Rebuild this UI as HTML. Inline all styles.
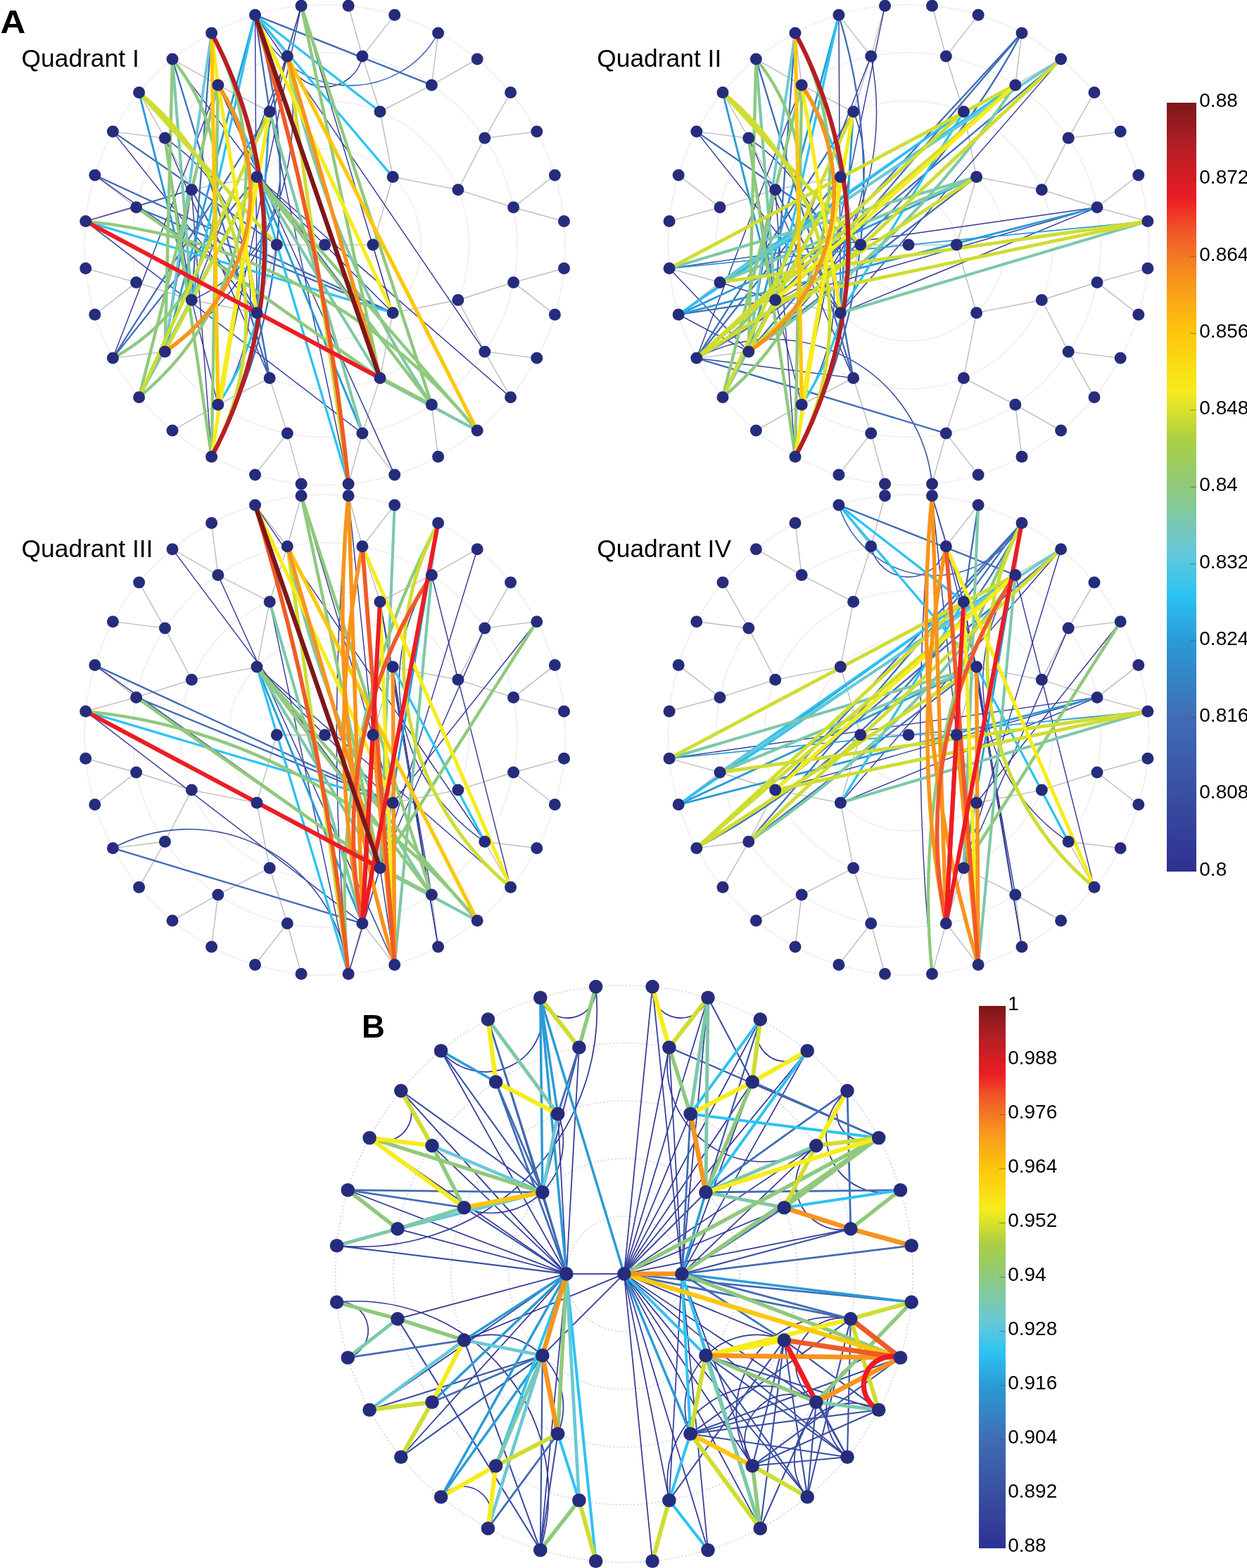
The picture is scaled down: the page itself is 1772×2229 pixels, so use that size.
<!DOCTYPE html>
<html lang="en">
<head>
<meta charset="utf-8">
<title>Figure: quadrant networks</title>
<style>
html,body{margin:0;padding:0;background:#fff}
body{width:1772px;height:2229px;overflow:hidden}
svg{display:block}
text{font-family:"Liberation Sans",Arial,Helvetica,sans-serif;fill:#000}
.rings circle{fill:none;stroke:#cfcfd6;stroke-width:1.2;stroke-dasharray:1.2 1.6}
.rb circle{stroke:#c3c3cf;stroke-width:1.5;stroke-dasharray:1.6 3.4}
.tree{fill:none;stroke:#bababd;stroke-width:1.35}
.edges path{fill:none;stroke-linecap:round}
.nodes circle{fill:#262c7c}
</style>
</head>
<body>

<svg width="1772" height="2229" viewBox="0 0 1772 2229">
<rect width="1772" height="2229" fill="#fff"/>
<g id="Q1">
<g class="rings">
<circle cx="461.6" cy="348.1" r="68.3"/>
<circle cx="461.6" cy="348.1" r="136.6"/>
<circle cx="461.6" cy="348.1" r="204.9"/>
<circle cx="461.6" cy="348.1" r="273.2"/>
<circle cx="461.6" cy="348.1" r="341.5"/>
</g>
<path class="tree" d="M461.6 348.1L529.9 348.1M461.6 348.1L393.3 348.1M529.9 348.1L558.2 251.5M529.9 348.1L558.2 444.7M393.3 348.1L365 444.7M393.3 348.1L365 251.5M558.2 251.5L540 158.8M558.2 251.5L650.9 269.7M558.2 444.7L650.9 426.5M558.2 444.7L540 537.4M365 444.7L383.2 537.4M365 444.7L272.3 426.5M365 251.5L272.3 269.7M365 251.5L383.2 158.8M540 158.8L514.9 80.1M540 158.8L613.4 120.9M650.9 269.7L688.8 196.3M650.9 269.7L729.6 294.8M650.9 426.5L729.6 401.4M650.9 426.5L688.8 499.9M540 537.4L613.4 575.3M540 537.4L514.9 616.1M383.2 537.4L408.3 616.1M383.2 537.4L309.8 575.3M272.3 426.5L234.4 499.9M272.3 426.5L193.6 401.4M272.3 269.7L193.6 294.8M272.3 269.7L234.4 196.3M383.2 158.8L309.8 120.9M383.2 158.8L408.3 80.1M514.9 80.1L495.1 8.2M514.9 80.1L560.7 21.3M613.4 120.9L622.6 46.9M613.4 120.9L678.2 84.1M688.8 196.3L725.6 131.5M688.8 196.3L762.8 187.1M729.6 294.8L788.4 249M729.6 294.8L801.5 314.6M729.6 401.4L801.5 381.6M729.6 401.4L788.4 447.2M688.8 499.9L762.8 509.1M688.8 499.9L725.6 564.7M613.4 575.3L678.2 612.1M613.4 575.3L622.6 649.3M514.9 616.1L560.7 674.9M514.9 616.1L495.1 688M408.3 616.1L428.1 688M408.3 616.1L362.5 674.9M309.8 575.3L300.6 649.3M309.8 575.3L245 612.1M234.4 499.9L197.6 564.7M234.4 499.9L160.4 509.1M193.6 401.4L134.8 447.2M193.6 401.4L121.7 381.6M193.6 294.8L121.7 314.6M193.6 294.8L134.8 249M234.4 196.3L160.4 187.1M234.4 196.3L197.6 131.5M309.8 120.9L245 84.1M309.8 120.9L300.6 46.9M408.3 80.1L362.5 21.3M408.3 80.1L428.1 8.2"/>
<g class="edges">
<path d="M362.5 21.3L688.8 499.9" stroke="#303795" stroke-width="1.4"/>
<path d="M428.1 8.2L558.2 444.7" stroke="#303795" stroke-width="1.4"/>
<path d="M383.2 158.8L495.1 688" stroke="#303795" stroke-width="1.4"/>
<path d="M365 251.5L558.2 444.7" stroke="#303795" stroke-width="1.4"/>
<path d="M365 251.5L725.6 564.7" stroke="#303795" stroke-width="1.4"/>
<path d="M245 84.1L613.4 575.3" stroke="#303795" stroke-width="1.4"/>
<path d="M134.8 249L540 537.4" stroke="#303795" stroke-width="1.4"/>
<path d="M121.7 314.6L514.9 616.1" stroke="#303795" stroke-width="1.4"/>
<path d="M309.8 120.9L560.7 674.9" stroke="#303795" stroke-width="1.4"/>
<path d="M300.6 649.3L272.3 269.7" stroke="#303795" stroke-width="1.4"/>
<path d="M160.4 509.1L309.8 120.9" stroke="#303795" stroke-width="1.4"/>
<path d="M383.2 537.4L234.4 196.3" stroke="#303795" stroke-width="1.4"/>
<path d="M197.6 131.5L309.8 575.3" stroke="#303795" stroke-width="1.4"/>
<path d="M160.4 187.1L365 444.7" stroke="#303795" stroke-width="1.4"/>
<path d="M362.5 21.3L365 444.7" stroke="#303795" stroke-width="1.4"/>
<path d="M383.2 158.8A205 205 0 0 1 272.3 426.5" stroke="#303795" stroke-width="1.4"/>
<path d="M234.4 196.3L272.3 426.5" stroke="#303795" stroke-width="1.4"/>
<path d="M234.4 196.3A273.3 273.3 0 0 1 309.8 575.3" stroke="#303795" stroke-width="1.4"/>
<path d="M408.3 80.1L272.3 426.5" stroke="#303795" stroke-width="1.4"/>
<path d="M408.3 80.1A409.1 409.1 0 0 1 234.4 499.9" stroke="#303795" stroke-width="1.4"/>
<path d="M272.3 269.7L234.4 499.9" stroke="#303795" stroke-width="1.4"/>
<path d="M428.1 8.2L309.8 575.3" stroke="#303795" stroke-width="1.4"/>
<path d="M428.1 8.2L383.2 158.8" stroke="#303795" stroke-width="1.4"/>
<path d="M408.3 80.1L365 251.5" stroke="#303795" stroke-width="1.4"/>
<path d="M121.7 314.6L272.3 269.7" stroke="#303795" stroke-width="1.4"/>
<path d="M408.3 80.1A54.4 54.4 0 0 0 514.9 80.1" stroke="#303795" stroke-width="1.4"/>
<path d="M134.8 249L558.2 444.7" stroke="#406cb4" stroke-width="2.3"/>
<path d="M193.6 294.8L558.2 444.7" stroke="#406cb4" stroke-width="2.3"/>
<path d="M245 84.1L383.2 537.4" stroke="#406cb4" stroke-width="2.3"/>
<path d="M160.4 509.1L365 251.5" stroke="#406cb4" stroke-width="2.3"/>
<path d="M160.4 509.1L383.2 158.8" stroke="#406cb4" stroke-width="2.3"/>
<path d="M383.2 537.4L309.8 120.9" stroke="#406cb4" stroke-width="2.3"/>
<path d="M272.3 269.7L365 444.7" stroke="#406cb4" stroke-width="2.3"/>
<path d="M300.6 46.9L272.3 426.5" stroke="#406cb4" stroke-width="2.3"/>
<path d="M362.5 21.3A824.9 824.9 0 0 1 300.6 649.3" stroke="#406cb4" stroke-width="2.3"/>
<path d="M160.4 187.1L393.3 348.1" stroke="#406cb4" stroke-width="2.3"/>
<path d="M362.5 21.3L383.2 158.8" stroke="#406cb4" stroke-width="2.3"/>
<path d="M362.5 21.3L613.4 120.9" stroke="#406cb4" stroke-width="2.4"/>
<path d="M622.6 46.9A141.5 141.5 0 0 1 362.5 21.3" stroke="#406cb4" stroke-width="1.6"/>
<path d="M365 251.5L514.9 616.1" stroke="#2a9bd6" stroke-width="2.9"/>
<path d="M197.6 131.5L272.3 426.5" stroke="#2a9bd6" stroke-width="2.9"/>
<path d="M362.5 21.3L234.4 499.9" stroke="#2a9bd6" stroke-width="2.9"/>
<path d="M383.2 158.8L365 444.7" stroke="#2a9bd6" stroke-width="2.9"/>
<path d="M365 251.5L495.1 688" stroke="#2cc3f3" stroke-width="3.3"/>
<path d="M121.7 314.6L558.2 444.7" stroke="#2cc3f3" stroke-width="3.3"/>
<path d="M309.8 120.9A409.1 409.1 0 0 1 309.8 575.3" stroke="#2cc3f3" stroke-width="3.3"/>
<path d="M362.5 21.3L272.3 426.5" stroke="#2cc3f3" stroke-width="3.3"/>
<path d="M365 251.5L309.8 575.3" stroke="#2cc3f3" stroke-width="3.3"/>
<path d="M362.5 21.3L558.2 251.5" stroke="#2cc3f3" stroke-width="3.3"/>
<path d="M362.5 21.3L540 158.8" stroke="#2cc3f3" stroke-width="3.3"/>
<path d="M300.6 46.9L234.4 499.9" stroke="#6ac8d6" stroke-width="3.8"/>
<path d="M408.3 80.1A1374.2 1374.2 0 0 0 613.4 575.3" stroke="#7dc8a9" stroke-width="4.1"/>
<path d="M383.2 158.8L514.9 616.1" stroke="#7dc8a9" stroke-width="4.1"/>
<path d="M365 251.5L540 537.4" stroke="#7dc8a9" stroke-width="4.1"/>
<path d="M121.7 314.6L678.2 612.1" stroke="#7dc8a9" stroke-width="4.1"/>
<path d="M245 84.1L272.3 426.5" stroke="#7dc8a9" stroke-width="4.1"/>
<path d="M197.6 564.7L365 251.5" stroke="#7dc8a9" stroke-width="4.1"/>
<path d="M428.1 8.2L540 537.4" stroke="#8fc97c" stroke-width="4.4"/>
<path d="M428.1 8.2L613.4 575.3" stroke="#8fc97c" stroke-width="4.4"/>
<path d="M365 251.5L678.2 612.1" stroke="#8fc97c" stroke-width="4.4"/>
<path d="M365 251.5L613.4 575.3" stroke="#8fc97c" stroke-width="4.4"/>
<path d="M193.6 294.8L540 537.4" stroke="#8fc97c" stroke-width="4.4"/>
<path d="M121.7 314.6L613.4 575.3" stroke="#8fc97c" stroke-width="4.4"/>
<path d="M121.7 314.6A824.9 824.9 0 0 1 678.2 612.1" stroke="#8fc97c" stroke-width="4.4"/>
<path d="M300.6 649.3L309.8 120.9" stroke="#8fc97c" stroke-width="4.4"/>
<path d="M300.6 649.3L234.4 196.3" stroke="#8fc97c" stroke-width="4.4"/>
<path d="M245 84.1L234.4 499.9" stroke="#8fc97c" stroke-width="4.4"/>
<path d="M245 84.1A280.4 280.4 0 0 1 160.4 509.1" stroke="#8fc97c" stroke-width="4.4"/>
<path d="M197.6 564.7L309.8 120.9" stroke="#8fc97c" stroke-width="4.4"/>
<path d="M197.6 564.7A416.3 416.3 0 0 0 300.6 46.9" stroke="#8fc97c" stroke-width="4.4"/>
<path d="M408.3 80.1L495.1 688" stroke="#cfdd31" stroke-width="4.9"/>
<path d="M300.6 649.3A416.3 416.3 0 0 0 197.6 131.5" stroke="#cfdd31" stroke-width="4.9"/>
<path d="M234.4 499.9L365 251.5" stroke="#cfdd31" stroke-width="4.9"/>
<path d="M197.6 564.7L383.2 158.8" stroke="#cfdd31" stroke-width="4.9"/>
<path d="M197.6 131.5L393.3 348.1" stroke="#cfdd31" stroke-width="4.9"/>
<path d="M362.5 21.3L558.2 444.7" stroke="#f7ec1c" stroke-width="5.1"/>
<path d="M309.8 120.9L365 444.7" stroke="#f7ec1c" stroke-width="5.1"/>
<path d="M309.8 575.3L383.2 158.8" stroke="#f7ec1c" stroke-width="5.1"/>
<path d="M300.6 649.3L365 251.5" stroke="#f7ec1c" stroke-width="5.1"/>
<path d="M300.6 46.9L309.8 120.9" stroke="#f7ec1c" stroke-width="5.1"/>
<path d="M408.3 80.1L678.2 612.1" stroke="#fdc70c" stroke-width="5.3"/>
<path d="M300.6 46.9L309.8 575.3" stroke="#fdc70c" stroke-width="5.3"/>
<path d="M408.3 80.1L540 537.4" stroke="#f7941d" stroke-width="5.5"/>
<path d="M309.8 120.9A273.3 273.3 0 0 1 234.4 499.9" stroke="#f7941d" stroke-width="5.5"/>
<path d="M362.5 21.3A3469 3469 0 0 1 495.1 688" stroke="#f05a28" stroke-width="5.8"/>
<path d="M121.7 314.6L540 537.4" stroke="#ed1c24" stroke-width="6"/>
<path d="M300.6 46.9A639.2 639.2 0 0 1 300.6 649.3" stroke="#b51f24" stroke-width="6.2"/>
<path d="M362.5 21.3L540 537.4" stroke="#7d171a" stroke-width="6.4"/>
</g>
<g class="nodes">
<circle cx="461.6" cy="348.1" r="8.5"/>
<circle cx="529.9" cy="348.1" r="8.5"/>
<circle cx="393.3" cy="348.1" r="8.5"/>
<circle cx="558.2" cy="251.5" r="8.5"/>
<circle cx="558.2" cy="444.7" r="8.5"/>
<circle cx="365" cy="444.7" r="8.5"/>
<circle cx="365" cy="251.5" r="8.5"/>
<circle cx="540" cy="158.8" r="8.5"/>
<circle cx="650.9" cy="269.7" r="8.5"/>
<circle cx="650.9" cy="426.5" r="8.5"/>
<circle cx="540" cy="537.4" r="8.5"/>
<circle cx="383.2" cy="537.4" r="8.5"/>
<circle cx="272.3" cy="426.5" r="8.5"/>
<circle cx="272.3" cy="269.7" r="8.5"/>
<circle cx="383.2" cy="158.8" r="8.5"/>
<circle cx="514.9" cy="80.1" r="8.5"/>
<circle cx="613.4" cy="120.9" r="8.5"/>
<circle cx="688.8" cy="196.3" r="8.5"/>
<circle cx="729.6" cy="294.8" r="8.5"/>
<circle cx="729.6" cy="401.4" r="8.5"/>
<circle cx="688.8" cy="499.9" r="8.5"/>
<circle cx="613.4" cy="575.3" r="8.5"/>
<circle cx="514.9" cy="616.1" r="8.5"/>
<circle cx="408.3" cy="616.1" r="8.5"/>
<circle cx="309.8" cy="575.3" r="8.5"/>
<circle cx="234.4" cy="499.9" r="8.5"/>
<circle cx="193.6" cy="401.4" r="8.5"/>
<circle cx="193.6" cy="294.8" r="8.5"/>
<circle cx="234.4" cy="196.3" r="8.5"/>
<circle cx="309.8" cy="120.9" r="8.5"/>
<circle cx="408.3" cy="80.1" r="8.5"/>
<circle cx="495.1" cy="8.2" r="8.5"/>
<circle cx="560.7" cy="21.3" r="8.5"/>
<circle cx="622.6" cy="46.9" r="8.5"/>
<circle cx="678.2" cy="84.1" r="8.5"/>
<circle cx="725.6" cy="131.5" r="8.5"/>
<circle cx="762.8" cy="187.1" r="8.5"/>
<circle cx="788.4" cy="249" r="8.5"/>
<circle cx="801.5" cy="314.6" r="8.5"/>
<circle cx="801.5" cy="381.6" r="8.5"/>
<circle cx="788.4" cy="447.2" r="8.5"/>
<circle cx="762.8" cy="509.1" r="8.5"/>
<circle cx="725.6" cy="564.7" r="8.5"/>
<circle cx="678.2" cy="612.1" r="8.5"/>
<circle cx="622.6" cy="649.3" r="8.5"/>
<circle cx="560.7" cy="674.9" r="8.5"/>
<circle cx="495.1" cy="688" r="8.5"/>
<circle cx="428.1" cy="688" r="8.5"/>
<circle cx="362.5" cy="674.9" r="8.5"/>
<circle cx="300.6" cy="649.3" r="8.5"/>
<circle cx="245" cy="612.1" r="8.5"/>
<circle cx="197.6" cy="564.7" r="8.5"/>
<circle cx="160.4" cy="509.1" r="8.5"/>
<circle cx="134.8" cy="447.2" r="8.5"/>
<circle cx="121.7" cy="381.6" r="8.5"/>
<circle cx="121.7" cy="314.6" r="8.5"/>
<circle cx="134.8" cy="249" r="8.5"/>
<circle cx="160.4" cy="187.1" r="8.5"/>
<circle cx="197.6" cy="131.5" r="8.5"/>
<circle cx="245" cy="84.1" r="8.5"/>
<circle cx="300.6" cy="46.9" r="8.5"/>
<circle cx="362.5" cy="21.3" r="8.5"/>
<circle cx="428.1" cy="8.2" r="8.5"/>
</g>
</g>
<g id="Q2">
<g class="rings">
<circle cx="1291" cy="348.1" r="68.3"/>
<circle cx="1291" cy="348.1" r="136.6"/>
<circle cx="1291" cy="348.1" r="204.9"/>
<circle cx="1291" cy="348.1" r="273.2"/>
<circle cx="1291" cy="348.1" r="341.5"/>
</g>
<path class="tree" d="M1291 348.1L1359.3 348.1M1291 348.1L1222.7 348.1M1359.3 348.1L1387.6 251.5M1359.3 348.1L1387.6 444.7M1222.7 348.1L1194.4 444.7M1222.7 348.1L1194.4 251.5M1387.6 251.5L1369.4 158.8M1387.6 251.5L1480.3 269.7M1387.6 444.7L1480.3 426.5M1387.6 444.7L1369.4 537.4M1194.4 444.7L1212.6 537.4M1194.4 444.7L1101.7 426.5M1194.4 251.5L1101.7 269.7M1194.4 251.5L1212.6 158.8M1369.4 158.8L1344.3 80.1M1369.4 158.8L1442.8 120.9M1480.3 269.7L1518.2 196.3M1480.3 269.7L1559 294.8M1480.3 426.5L1559 401.4M1480.3 426.5L1518.2 499.9M1369.4 537.4L1442.8 575.3M1369.4 537.4L1344.3 616.1M1212.6 537.4L1237.7 616.1M1212.6 537.4L1139.2 575.3M1101.7 426.5L1063.8 499.9M1101.7 426.5L1023 401.4M1101.7 269.7L1023 294.8M1101.7 269.7L1063.8 196.3M1212.6 158.8L1139.2 120.9M1212.6 158.8L1237.7 80.1M1344.3 80.1L1324.5 8.2M1344.3 80.1L1390.1 21.3M1442.8 120.9L1452 46.9M1442.8 120.9L1507.6 84.1M1518.2 196.3L1555 131.5M1518.2 196.3L1592.2 187.1M1559 294.8L1617.8 249M1559 294.8L1630.9 314.6M1559 401.4L1630.9 381.6M1559 401.4L1617.8 447.2M1518.2 499.9L1592.2 509.1M1518.2 499.9L1555 564.7M1442.8 575.3L1507.6 612.1M1442.8 575.3L1452 649.3M1344.3 616.1L1390.1 674.9M1344.3 616.1L1324.5 688M1237.7 616.1L1257.5 688M1237.7 616.1L1191.9 674.9M1139.2 575.3L1130 649.3M1139.2 575.3L1074.4 612.1M1063.8 499.9L1027 564.7M1063.8 499.9L989.8 509.1M1023 401.4L964.2 447.2M1023 401.4L951.1 381.6M1023 294.8L951.1 314.6M1023 294.8L964.2 249M1063.8 196.3L989.8 187.1M1063.8 196.3L1027 131.5M1139.2 120.9L1074.4 84.1M1139.2 120.9L1130 46.9M1237.7 80.1L1191.9 21.3M1237.7 80.1L1257.5 8.2"/>
<g class="edges">
<path d="M1130 649.3L1101.7 269.7" stroke="#303795" stroke-width="1.4"/>
<path d="M989.8 509.1L1139.2 120.9" stroke="#303795" stroke-width="1.4"/>
<path d="M1212.6 537.4L1063.8 196.3" stroke="#303795" stroke-width="1.4"/>
<path d="M1027 131.5L1139.2 575.3" stroke="#303795" stroke-width="1.4"/>
<path d="M989.8 187.1L1194.4 444.7" stroke="#303795" stroke-width="1.4"/>
<path d="M1191.9 21.3L1194.4 444.7" stroke="#303795" stroke-width="1.4"/>
<path d="M1212.6 158.8A205 205 0 0 1 1101.7 426.5" stroke="#303795" stroke-width="1.4"/>
<path d="M1063.8 196.3L1101.7 426.5" stroke="#303795" stroke-width="1.4"/>
<path d="M1063.8 196.3A273.3 273.3 0 0 1 1139.2 575.3" stroke="#303795" stroke-width="1.4"/>
<path d="M1237.7 80.1L1101.7 426.5" stroke="#303795" stroke-width="1.4"/>
<path d="M1237.7 80.1A409.1 409.1 0 0 1 1063.8 499.9" stroke="#303795" stroke-width="1.4"/>
<path d="M1101.7 269.7L1063.8 499.9" stroke="#303795" stroke-width="1.4"/>
<path d="M1257.5 8.2L1139.2 575.3" stroke="#303795" stroke-width="1.4"/>
<path d="M964.2 447.2L1063.8 499.9" stroke="#303795" stroke-width="1.4"/>
<path d="M951.1 381.6L1063.8 499.9" stroke="#303795" stroke-width="1.4"/>
<path d="M989.8 509.1L1212.6 537.4" stroke="#303795" stroke-width="1.4"/>
<path d="M1023 401.4L1101.7 426.5" stroke="#303795" stroke-width="1.4"/>
<path d="M1194.4 444.7L1507.6 84.1" stroke="#303795" stroke-width="1.4"/>
<path d="M1194.4 444.7L1559 294.8" stroke="#303795" stroke-width="1.4"/>
<path d="M1559 294.8L951.1 381.6" stroke="#303795" stroke-width="1.4"/>
<path d="M1559 294.8L1101.7 426.5" stroke="#303795" stroke-width="1.4"/>
<path d="M989.8 509.1A228.3 228.3 0 0 1 1324.5 688" stroke="#394fa2" stroke-width="1.6"/>
<path d="M1074.4 84.1L1212.6 537.4" stroke="#406cb4" stroke-width="2.3"/>
<path d="M989.8 509.1L1194.4 251.5" stroke="#406cb4" stroke-width="2.3"/>
<path d="M989.8 509.1L1212.6 158.8" stroke="#406cb4" stroke-width="2.3"/>
<path d="M1212.6 537.4L1139.2 120.9" stroke="#406cb4" stroke-width="2.3"/>
<path d="M1101.7 269.7L1194.4 444.7" stroke="#406cb4" stroke-width="2.3"/>
<path d="M1130 46.9L1101.7 426.5" stroke="#406cb4" stroke-width="2.3"/>
<path d="M1191.9 21.3A824.9 824.9 0 0 1 1130 649.3" stroke="#406cb4" stroke-width="2.3"/>
<path d="M989.8 187.1L1222.7 348.1" stroke="#406cb4" stroke-width="2.3"/>
<path d="M964.2 447.2L1101.7 426.5" stroke="#406cb4" stroke-width="2.3"/>
<path d="M989.8 509.1L1344.3 616.1" stroke="#406cb4" stroke-width="2.3"/>
<path d="M1101.7 426.5L1452 46.9" stroke="#406cb4" stroke-width="2.3"/>
<path d="M1101.7 426.5L1507.6 84.1" stroke="#406cb4" stroke-width="2.3"/>
<path d="M989.8 509.1A1126.3 1126.3 0 0 0 1452 46.9" stroke="#406cb4" stroke-width="2.3"/>
<path d="M1063.8 499.9L1387.6 251.5" stroke="#406cb4" stroke-width="2.3"/>
<path d="M1063.8 499.9L1452 46.9" stroke="#406cb4" stroke-width="2.3"/>
<path d="M1027 131.5L1101.7 426.5" stroke="#2a9bd6" stroke-width="2.9"/>
<path d="M1191.9 21.3L1063.8 499.9" stroke="#2a9bd6" stroke-width="2.9"/>
<path d="M1212.6 158.8L1194.4 444.7" stroke="#2a9bd6" stroke-width="2.9"/>
<path d="M951.1 381.6L1630.9 314.6" stroke="#2a9bd6" stroke-width="1.8"/>
<path d="M964.2 447.2L1559 294.8" stroke="#2a9bd6" stroke-width="2.9"/>
<path d="M964.2 447.2L1369.4 158.8" stroke="#2a9bd6" stroke-width="2.9"/>
<path d="M964.2 447.2L1387.6 251.5" stroke="#2a9bd6" stroke-width="2.9"/>
<path d="M1139.2 120.9A409.1 409.1 0 0 1 1139.2 575.3" stroke="#2cc3f3" stroke-width="3.3"/>
<path d="M1191.9 21.3L1101.7 426.5" stroke="#2cc3f3" stroke-width="3.3"/>
<path d="M1194.4 251.5L1139.2 575.3" stroke="#2cc3f3" stroke-width="3.3"/>
<path d="M1023 401.4L1369.4 158.8" stroke="#2cc3f3" stroke-width="3.3"/>
<path d="M964.2 447.2L1442.8 120.9" stroke="#2cc3f3" stroke-width="3.3"/>
<path d="M1194.4 444.7L1369.4 158.8" stroke="#2cc3f3" stroke-width="3.3"/>
<path d="M1130 46.9L1063.8 499.9" stroke="#6ac8d6" stroke-width="3.8"/>
<path d="M1023 401.4L1507.6 84.1" stroke="#6ac8d6" stroke-width="3.8"/>
<path d="M1074.4 84.1L1101.7 426.5" stroke="#7dc8a9" stroke-width="4.1"/>
<path d="M1027 564.7L1194.4 251.5" stroke="#7dc8a9" stroke-width="4.1"/>
<path d="M951.1 381.6L1387.6 251.5" stroke="#7dc8a9" stroke-width="4.1"/>
<path d="M1023 401.4L1387.6 251.5" stroke="#7dc8a9" stroke-width="4.1"/>
<path d="M1194.4 444.7L1630.9 314.6" stroke="#7dc8a9" stroke-width="4.1"/>
<path d="M1063.8 499.9A1374.2 1374.2 0 0 0 1442.8 120.9" stroke="#7dc8a9" stroke-width="4.1"/>
<path d="M1130 649.3L1139.2 120.9" stroke="#8fc97c" stroke-width="4.4"/>
<path d="M1130 649.3L1063.8 196.3" stroke="#8fc97c" stroke-width="4.4"/>
<path d="M1074.4 84.1L1063.8 499.9" stroke="#8fc97c" stroke-width="4.4"/>
<path d="M1074.4 84.1A280.4 280.4 0 0 1 989.8 509.1" stroke="#8fc97c" stroke-width="4.4"/>
<path d="M1027 564.7L1139.2 120.9" stroke="#8fc97c" stroke-width="4.4"/>
<path d="M1027 564.7A416.3 416.3 0 0 0 1130 46.9" stroke="#8fc97c" stroke-width="4.4"/>
<path d="M1130 649.3A416.3 416.3 0 0 0 1027 131.5" stroke="#cfdd31" stroke-width="4.9"/>
<path d="M1063.8 499.9L1194.4 251.5" stroke="#cfdd31" stroke-width="4.9"/>
<path d="M1027 564.7L1212.6 158.8" stroke="#cfdd31" stroke-width="4.9"/>
<path d="M1027 131.5L1222.7 348.1" stroke="#cfdd31" stroke-width="4.9"/>
<path d="M951.1 381.6L1442.8 120.9" stroke="#cfdd31" stroke-width="4.9"/>
<path d="M1023 401.4L1630.9 314.6" stroke="#cfdd31" stroke-width="4.9"/>
<path d="M1101.7 426.5L1630.9 314.6" stroke="#cfdd31" stroke-width="4.9"/>
<path d="M989.8 509.1L1369.4 158.8" stroke="#cfdd31" stroke-width="4.9"/>
<path d="M989.8 509.1L1387.6 251.5" stroke="#cfdd31" stroke-width="4.9"/>
<path d="M989.8 509.1L1442.8 120.9" stroke="#cfdd31" stroke-width="4.9"/>
<path d="M1063.8 499.9L1507.6 84.1" stroke="#cfdd31" stroke-width="4.9"/>
<path d="M1139.2 120.9L1194.4 444.7" stroke="#f7ec1c" stroke-width="5.1"/>
<path d="M1139.2 575.3L1212.6 158.8" stroke="#f7ec1c" stroke-width="5.1"/>
<path d="M1130 649.3L1194.4 251.5" stroke="#f7ec1c" stroke-width="5.1"/>
<path d="M1101.7 426.5L1442.8 120.9" stroke="#f7ec1c" stroke-width="5.1"/>
<path d="M1130 46.9L1139.2 575.3" stroke="#fdc70c" stroke-width="5.3"/>
<path d="M1139.2 120.9A273.3 273.3 0 0 1 1063.8 499.9" stroke="#f7941d" stroke-width="5.5"/>
<path d="M1130 46.9A639.2 639.2 0 0 1 1130 649.3" stroke="#b51f24" stroke-width="6.2"/>
</g>
<g class="nodes">
<circle cx="1291" cy="348.1" r="8.5"/>
<circle cx="1359.3" cy="348.1" r="8.5"/>
<circle cx="1222.7" cy="348.1" r="8.5"/>
<circle cx="1387.6" cy="251.5" r="8.5"/>
<circle cx="1387.6" cy="444.7" r="8.5"/>
<circle cx="1194.4" cy="444.7" r="8.5"/>
<circle cx="1194.4" cy="251.5" r="8.5"/>
<circle cx="1369.4" cy="158.8" r="8.5"/>
<circle cx="1480.3" cy="269.7" r="8.5"/>
<circle cx="1480.3" cy="426.5" r="8.5"/>
<circle cx="1369.4" cy="537.4" r="8.5"/>
<circle cx="1212.6" cy="537.4" r="8.5"/>
<circle cx="1101.7" cy="426.5" r="8.5"/>
<circle cx="1101.7" cy="269.7" r="8.5"/>
<circle cx="1212.6" cy="158.8" r="8.5"/>
<circle cx="1344.3" cy="80.1" r="8.5"/>
<circle cx="1442.8" cy="120.9" r="8.5"/>
<circle cx="1518.2" cy="196.3" r="8.5"/>
<circle cx="1559" cy="294.8" r="8.5"/>
<circle cx="1559" cy="401.4" r="8.5"/>
<circle cx="1518.2" cy="499.9" r="8.5"/>
<circle cx="1442.8" cy="575.3" r="8.5"/>
<circle cx="1344.3" cy="616.1" r="8.5"/>
<circle cx="1237.7" cy="616.1" r="8.5"/>
<circle cx="1139.2" cy="575.3" r="8.5"/>
<circle cx="1063.8" cy="499.9" r="8.5"/>
<circle cx="1023" cy="401.4" r="8.5"/>
<circle cx="1023" cy="294.8" r="8.5"/>
<circle cx="1063.8" cy="196.3" r="8.5"/>
<circle cx="1139.2" cy="120.9" r="8.5"/>
<circle cx="1237.7" cy="80.1" r="8.5"/>
<circle cx="1324.5" cy="8.2" r="8.5"/>
<circle cx="1390.1" cy="21.3" r="8.5"/>
<circle cx="1452" cy="46.9" r="8.5"/>
<circle cx="1507.6" cy="84.1" r="8.5"/>
<circle cx="1555" cy="131.5" r="8.5"/>
<circle cx="1592.2" cy="187.1" r="8.5"/>
<circle cx="1617.8" cy="249" r="8.5"/>
<circle cx="1630.9" cy="314.6" r="8.5"/>
<circle cx="1630.9" cy="381.6" r="8.5"/>
<circle cx="1617.8" cy="447.2" r="8.5"/>
<circle cx="1592.2" cy="509.1" r="8.5"/>
<circle cx="1555" cy="564.7" r="8.5"/>
<circle cx="1507.6" cy="612.1" r="8.5"/>
<circle cx="1452" cy="649.3" r="8.5"/>
<circle cx="1390.1" cy="674.9" r="8.5"/>
<circle cx="1324.5" cy="688" r="8.5"/>
<circle cx="1257.5" cy="688" r="8.5"/>
<circle cx="1191.9" cy="674.9" r="8.5"/>
<circle cx="1130" cy="649.3" r="8.5"/>
<circle cx="1074.4" cy="612.1" r="8.5"/>
<circle cx="1027" cy="564.7" r="8.5"/>
<circle cx="989.8" cy="509.1" r="8.5"/>
<circle cx="964.2" cy="447.2" r="8.5"/>
<circle cx="951.1" cy="381.6" r="8.5"/>
<circle cx="951.1" cy="314.6" r="8.5"/>
<circle cx="964.2" cy="249" r="8.5"/>
<circle cx="989.8" cy="187.1" r="8.5"/>
<circle cx="1027" cy="131.5" r="8.5"/>
<circle cx="1074.4" cy="84.1" r="8.5"/>
<circle cx="1130" cy="46.9" r="8.5"/>
<circle cx="1191.9" cy="21.3" r="8.5"/>
<circle cx="1257.5" cy="8.2" r="8.5"/>
</g>
</g>
<g id="Q3">
<g class="rings">
<circle cx="461.6" cy="1044.7" r="68.3"/>
<circle cx="461.6" cy="1044.7" r="136.6"/>
<circle cx="461.6" cy="1044.7" r="204.9"/>
<circle cx="461.6" cy="1044.7" r="273.2"/>
<circle cx="461.6" cy="1044.7" r="341.5"/>
</g>
<path class="tree" d="M461.6 1044.7L529.9 1044.7M461.6 1044.7L393.3 1044.7M529.9 1044.7L558.2 948.1M529.9 1044.7L558.2 1141.3M393.3 1044.7L365 1141.3M393.3 1044.7L365 948.1M558.2 948.1L540 855.4M558.2 948.1L650.9 966.3M558.2 1141.3L650.9 1123.1M558.2 1141.3L540 1234M365 1141.3L383.2 1234M365 1141.3L272.3 1123.1M365 948.1L272.3 966.3M365 948.1L383.2 855.4M540 855.4L514.9 776.7M540 855.4L613.4 817.5M650.9 966.3L688.8 892.9M650.9 966.3L729.6 991.4M650.9 1123.1L729.6 1098M650.9 1123.1L688.8 1196.5M540 1234L613.4 1271.9M540 1234L514.9 1312.7M383.2 1234L408.3 1312.7M383.2 1234L309.8 1271.9M272.3 1123.1L234.4 1196.5M272.3 1123.1L193.6 1098M272.3 966.3L193.6 991.4M272.3 966.3L234.4 892.9M383.2 855.4L309.8 817.5M383.2 855.4L408.3 776.7M514.9 776.7L495.1 704.8M514.9 776.7L560.7 717.9M613.4 817.5L622.6 743.5M613.4 817.5L678.2 780.7M688.8 892.9L725.6 828.1M688.8 892.9L762.8 883.7M729.6 991.4L788.4 945.6M729.6 991.4L801.5 1011.2M729.6 1098L801.5 1078.2M729.6 1098L788.4 1143.8M688.8 1196.5L762.8 1205.7M688.8 1196.5L725.6 1261.3M613.4 1271.9L678.2 1308.7M613.4 1271.9L622.6 1345.9M514.9 1312.7L560.7 1371.5M514.9 1312.7L495.1 1384.6M408.3 1312.7L428.1 1384.6M408.3 1312.7L362.5 1371.5M309.8 1271.9L300.6 1345.9M309.8 1271.9L245 1308.7M234.4 1196.5L197.6 1261.3M234.4 1196.5L160.4 1205.7M193.6 1098L134.8 1143.8M193.6 1098L121.7 1078.2M193.6 991.4L121.7 1011.2M193.6 991.4L134.8 945.6M234.4 892.9L160.4 883.7M234.4 892.9L197.6 828.1M309.8 817.5L245 780.7M309.8 817.5L300.6 743.5M408.3 776.7L362.5 717.9M408.3 776.7L428.1 704.8"/>
<g class="edges">
<path d="M362.5 717.9L688.8 1196.5" stroke="#303795" stroke-width="1.4"/>
<path d="M428.1 704.8L558.2 1141.3" stroke="#303795" stroke-width="1.4"/>
<path d="M383.2 855.4L495.1 1384.6" stroke="#303795" stroke-width="1.4"/>
<path d="M365 948.1L558.2 1141.3" stroke="#303795" stroke-width="1.4"/>
<path d="M365 948.1L725.6 1261.3" stroke="#303795" stroke-width="1.4"/>
<path d="M245 780.7L613.4 1271.9" stroke="#303795" stroke-width="1.4"/>
<path d="M134.8 945.6L540 1234" stroke="#303795" stroke-width="1.4"/>
<path d="M121.7 1011.2L514.9 1312.7" stroke="#303795" stroke-width="1.4"/>
<path d="M309.8 817.5L560.7 1371.5" stroke="#303795" stroke-width="1.4"/>
<path d="M495.1 704.8A3469 3469 0 0 0 495.1 1384.6" stroke="#303795" stroke-width="1.4"/>
<path d="M678.2 780.7L540 1234" stroke="#303795" stroke-width="1.4"/>
<path d="M540 855.4L622.6 1345.9" stroke="#303795" stroke-width="1.4"/>
<path d="M558.2 948.1L622.6 1345.9" stroke="#303795" stroke-width="1.4"/>
<path d="M540 855.4L613.4 1271.9" stroke="#303795" stroke-width="1.4"/>
<path d="M613.4 817.5L725.6 1261.3" stroke="#303795" stroke-width="1.4"/>
<path d="M762.8 883.7L558.2 1141.3" stroke="#303795" stroke-width="1.4"/>
<path d="M688.8 892.9L540 1234" stroke="#303795" stroke-width="1.4"/>
<path d="M613.4 817.5A273.3 273.3 0 0 0 688.8 1196.5" stroke="#303795" stroke-width="1.4"/>
<path d="M495.1 1384.6L540 1234" stroke="#303795" stroke-width="1.4"/>
<path d="M560.7 1371.5L540 1234" stroke="#303795" stroke-width="1.4"/>
<path d="M529.9 1044.7L495.1 704.8" stroke="#303795" stroke-width="1.4"/>
<path d="M160.4 1205.7A228.3 228.3 0 0 1 495.1 1384.6" stroke="#394fa2" stroke-width="1.6"/>
<path d="M134.8 945.6L558.2 1141.3" stroke="#406cb4" stroke-width="2.3"/>
<path d="M193.6 991.4L558.2 1141.3" stroke="#406cb4" stroke-width="2.3"/>
<path d="M160.4 1205.7L514.9 1312.7" stroke="#406cb4" stroke-width="2.3"/>
<path d="M365 948.1L514.9 1312.7" stroke="#2a9bd6" stroke-width="2.9"/>
<path d="M622.6 743.5L540 1234" stroke="#2a9bd6" stroke-width="2.9"/>
<path d="M365 948.1L495.1 1384.6" stroke="#2cc3f3" stroke-width="3.3"/>
<path d="M121.7 1011.2L558.2 1141.3" stroke="#2cc3f3" stroke-width="3.3"/>
<path d="M558.2 948.1L688.8 1196.5" stroke="#2cc3f3" stroke-width="3.3"/>
<path d="M408.3 776.7A1374.2 1374.2 0 0 0 613.4 1271.9" stroke="#7dc8a9" stroke-width="4.1"/>
<path d="M383.2 855.4L514.9 1312.7" stroke="#7dc8a9" stroke-width="4.1"/>
<path d="M365 948.1L540 1234" stroke="#7dc8a9" stroke-width="4.1"/>
<path d="M121.7 1011.2L678.2 1308.7" stroke="#7dc8a9" stroke-width="4.1"/>
<path d="M613.4 817.5L560.7 1371.5" stroke="#7dc8a9" stroke-width="4.1"/>
<path d="M560.7 717.9L540 1234" stroke="#7dc8a9" stroke-width="4.1"/>
<path d="M428.1 704.8L540 1234" stroke="#8fc97c" stroke-width="4.4"/>
<path d="M428.1 704.8L613.4 1271.9" stroke="#8fc97c" stroke-width="4.4"/>
<path d="M365 948.1L678.2 1308.7" stroke="#8fc97c" stroke-width="4.4"/>
<path d="M365 948.1L613.4 1271.9" stroke="#8fc97c" stroke-width="4.4"/>
<path d="M193.6 991.4L540 1234" stroke="#8fc97c" stroke-width="4.4"/>
<path d="M121.7 1011.2L613.4 1271.9" stroke="#8fc97c" stroke-width="4.4"/>
<path d="M121.7 1011.2A824.9 824.9 0 0 1 678.2 1308.7" stroke="#8fc97c" stroke-width="4.4"/>
<path d="M762.8 883.7L540 1234" stroke="#8fc97c" stroke-width="4.4"/>
<path d="M622.6 743.5A1126.3 1126.3 0 0 0 495.1 1384.6" stroke="#8fc97c" stroke-width="4.4"/>
<path d="M408.3 776.7L495.1 1384.6" stroke="#cfdd31" stroke-width="4.9"/>
<path d="M622.6 743.5A416.3 416.3 0 0 0 725.6 1261.3" stroke="#cfdd31" stroke-width="4.9"/>
<path d="M362.5 717.9L558.2 1141.3" stroke="#f7ec1c" stroke-width="5.1"/>
<path d="M514.9 776.7L725.6 1261.3" stroke="#f7ec1c" stroke-width="5.1"/>
<path d="M540 855.4L560.7 1371.5" stroke="#f7ec1c" stroke-width="5.1"/>
<path d="M408.3 776.7L678.2 1308.7" stroke="#fdc70c" stroke-width="5.3"/>
<path d="M408.3 776.7L540 1234" stroke="#f7941d" stroke-width="5.5"/>
<path d="M495.1 704.8L514.9 1312.7" stroke="#f7941d" stroke-width="5.5"/>
<path d="M495.1 704.8A1717.7 1717.7 0 0 0 560.7 1371.5" stroke="#f7941d" stroke-width="5.5"/>
<path d="M514.9 776.7A1374.2 1374.2 0 0 0 514.9 1312.7" stroke="#f7941d" stroke-width="5.5"/>
<path d="M558.2 948.1L560.7 1371.5" stroke="#f7941d" stroke-width="5.5"/>
<path d="M529.9 1044.7L560.7 1371.5" stroke="#f7941d" stroke-width="5.5"/>
<path d="M362.5 717.9A3469 3469 0 0 1 495.1 1384.6" stroke="#f05a28" stroke-width="5.8"/>
<path d="M514.9 776.7L560.7 1371.5" stroke="#f05a28" stroke-width="5.8"/>
<path d="M613.4 817.5A659.9 659.9 0 0 0 514.9 1312.7" stroke="#f05a28" stroke-width="5.8"/>
<path d="M121.7 1011.2L540 1234" stroke="#ed1c24" stroke-width="6"/>
<path d="M622.6 743.5L514.9 1312.7" stroke="#ed1c24" stroke-width="6"/>
<path d="M540 855.4L514.9 1312.7" stroke="#ed1c24" stroke-width="6"/>
<path d="M529.9 1044.7L514.9 1312.7" stroke="#ed1c24" stroke-width="6"/>
<path d="M362.5 717.9L540 1234" stroke="#7d171a" stroke-width="6.4"/>
</g>
<g class="nodes">
<circle cx="461.6" cy="1044.7" r="8.5"/>
<circle cx="529.9" cy="1044.7" r="8.5"/>
<circle cx="393.3" cy="1044.7" r="8.5"/>
<circle cx="558.2" cy="948.1" r="8.5"/>
<circle cx="558.2" cy="1141.3" r="8.5"/>
<circle cx="365" cy="1141.3" r="8.5"/>
<circle cx="365" cy="948.1" r="8.5"/>
<circle cx="540" cy="855.4" r="8.5"/>
<circle cx="650.9" cy="966.3" r="8.5"/>
<circle cx="650.9" cy="1123.1" r="8.5"/>
<circle cx="540" cy="1234" r="8.5"/>
<circle cx="383.2" cy="1234" r="8.5"/>
<circle cx="272.3" cy="1123.1" r="8.5"/>
<circle cx="272.3" cy="966.3" r="8.5"/>
<circle cx="383.2" cy="855.4" r="8.5"/>
<circle cx="514.9" cy="776.7" r="8.5"/>
<circle cx="613.4" cy="817.5" r="8.5"/>
<circle cx="688.8" cy="892.9" r="8.5"/>
<circle cx="729.6" cy="991.4" r="8.5"/>
<circle cx="729.6" cy="1098" r="8.5"/>
<circle cx="688.8" cy="1196.5" r="8.5"/>
<circle cx="613.4" cy="1271.9" r="8.5"/>
<circle cx="514.9" cy="1312.7" r="8.5"/>
<circle cx="408.3" cy="1312.7" r="8.5"/>
<circle cx="309.8" cy="1271.9" r="8.5"/>
<circle cx="234.4" cy="1196.5" r="8.5"/>
<circle cx="193.6" cy="1098" r="8.5"/>
<circle cx="193.6" cy="991.4" r="8.5"/>
<circle cx="234.4" cy="892.9" r="8.5"/>
<circle cx="309.8" cy="817.5" r="8.5"/>
<circle cx="408.3" cy="776.7" r="8.5"/>
<circle cx="495.1" cy="704.8" r="8.5"/>
<circle cx="560.7" cy="717.9" r="8.5"/>
<circle cx="622.6" cy="743.5" r="8.5"/>
<circle cx="678.2" cy="780.7" r="8.5"/>
<circle cx="725.6" cy="828.1" r="8.5"/>
<circle cx="762.8" cy="883.7" r="8.5"/>
<circle cx="788.4" cy="945.6" r="8.5"/>
<circle cx="801.5" cy="1011.2" r="8.5"/>
<circle cx="801.5" cy="1078.2" r="8.5"/>
<circle cx="788.4" cy="1143.8" r="8.5"/>
<circle cx="762.8" cy="1205.7" r="8.5"/>
<circle cx="725.6" cy="1261.3" r="8.5"/>
<circle cx="678.2" cy="1308.7" r="8.5"/>
<circle cx="622.6" cy="1345.9" r="8.5"/>
<circle cx="560.7" cy="1371.5" r="8.5"/>
<circle cx="495.1" cy="1384.6" r="8.5"/>
<circle cx="428.1" cy="1384.6" r="8.5"/>
<circle cx="362.5" cy="1371.5" r="8.5"/>
<circle cx="300.6" cy="1345.9" r="8.5"/>
<circle cx="245" cy="1308.7" r="8.5"/>
<circle cx="197.6" cy="1261.3" r="8.5"/>
<circle cx="160.4" cy="1205.7" r="8.5"/>
<circle cx="134.8" cy="1143.8" r="8.5"/>
<circle cx="121.7" cy="1078.2" r="8.5"/>
<circle cx="121.7" cy="1011.2" r="8.5"/>
<circle cx="134.8" cy="945.6" r="8.5"/>
<circle cx="160.4" cy="883.7" r="8.5"/>
<circle cx="197.6" cy="828.1" r="8.5"/>
<circle cx="245" cy="780.7" r="8.5"/>
<circle cx="300.6" cy="743.5" r="8.5"/>
<circle cx="362.5" cy="717.9" r="8.5"/>
<circle cx="428.1" cy="704.8" r="8.5"/>
</g>
</g>
<g id="Q4">
<g class="rings">
<circle cx="1291" cy="1044.7" r="68.3"/>
<circle cx="1291" cy="1044.7" r="136.6"/>
<circle cx="1291" cy="1044.7" r="204.9"/>
<circle cx="1291" cy="1044.7" r="273.2"/>
<circle cx="1291" cy="1044.7" r="341.5"/>
</g>
<path class="tree" d="M1291 1044.7L1359.3 1044.7M1291 1044.7L1222.7 1044.7M1359.3 1044.7L1387.6 948.1M1359.3 1044.7L1387.6 1141.3M1222.7 1044.7L1194.4 1141.3M1222.7 1044.7L1194.4 948.1M1387.6 948.1L1369.4 855.4M1387.6 948.1L1480.3 966.3M1387.6 1141.3L1480.3 1123.1M1387.6 1141.3L1369.4 1234M1194.4 1141.3L1212.6 1234M1194.4 1141.3L1101.7 1123.1M1194.4 948.1L1101.7 966.3M1194.4 948.1L1212.6 855.4M1369.4 855.4L1344.3 776.7M1369.4 855.4L1442.8 817.5M1480.3 966.3L1518.2 892.9M1480.3 966.3L1559 991.4M1480.3 1123.1L1559 1098M1480.3 1123.1L1518.2 1196.5M1369.4 1234L1442.8 1271.9M1369.4 1234L1344.3 1312.7M1212.6 1234L1237.7 1312.7M1212.6 1234L1139.2 1271.9M1101.7 1123.1L1063.8 1196.5M1101.7 1123.1L1023 1098M1101.7 966.3L1023 991.4M1101.7 966.3L1063.8 892.9M1212.6 855.4L1139.2 817.5M1212.6 855.4L1237.7 776.7M1344.3 776.7L1324.5 704.8M1344.3 776.7L1390.1 717.9M1442.8 817.5L1452 743.5M1442.8 817.5L1507.6 780.7M1518.2 892.9L1555 828.1M1518.2 892.9L1592.2 883.7M1559 991.4L1617.8 945.6M1559 991.4L1630.9 1011.2M1559 1098L1630.9 1078.2M1559 1098L1617.8 1143.8M1518.2 1196.5L1592.2 1205.7M1518.2 1196.5L1555 1261.3M1442.8 1271.9L1507.6 1308.7M1442.8 1271.9L1452 1345.9M1344.3 1312.7L1390.1 1371.5M1344.3 1312.7L1324.5 1384.6M1237.7 1312.7L1257.5 1384.6M1237.7 1312.7L1191.9 1371.5M1139.2 1271.9L1130 1345.9M1139.2 1271.9L1074.4 1308.7M1063.8 1196.5L1027 1261.3M1063.8 1196.5L989.8 1205.7M1023 1098L964.2 1143.8M1023 1098L951.1 1078.2M1023 991.4L951.1 1011.2M1023 991.4L964.2 945.6M1063.8 892.9L989.8 883.7M1063.8 892.9L1027 828.1M1139.2 817.5L1074.4 780.7M1139.2 817.5L1130 743.5M1237.7 776.7L1191.9 717.9M1237.7 776.7L1257.5 704.8"/>
<g class="edges">
<path d="M1237.7 776.7A54.4 54.4 0 0 0 1344.3 776.7" stroke="#303795" stroke-width="1.4"/>
<path d="M1194.4 1141.3L1507.6 780.7" stroke="#303795" stroke-width="1.4"/>
<path d="M1194.4 1141.3L1559 991.4" stroke="#303795" stroke-width="1.4"/>
<path d="M1559 991.4L951.1 1078.2" stroke="#303795" stroke-width="1.4"/>
<path d="M1559 991.4L1101.7 1123.1" stroke="#303795" stroke-width="1.4"/>
<path d="M1324.5 704.8A3469 3469 0 0 0 1324.5 1384.6" stroke="#303795" stroke-width="1.4"/>
<path d="M1507.6 780.7L1369.4 1234" stroke="#303795" stroke-width="1.4"/>
<path d="M1369.4 855.4L1452 1345.9" stroke="#303795" stroke-width="1.4"/>
<path d="M1387.6 948.1L1452 1345.9" stroke="#303795" stroke-width="1.4"/>
<path d="M1369.4 855.4L1442.8 1271.9" stroke="#303795" stroke-width="1.4"/>
<path d="M1442.8 817.5L1555 1261.3" stroke="#303795" stroke-width="1.4"/>
<path d="M1592.2 883.7L1387.6 1141.3" stroke="#303795" stroke-width="1.4"/>
<path d="M1518.2 892.9L1369.4 1234" stroke="#303795" stroke-width="1.4"/>
<path d="M1442.8 817.5A273.3 273.3 0 0 0 1518.2 1196.5" stroke="#303795" stroke-width="1.4"/>
<path d="M1324.5 704.8L1369.4 855.4" stroke="#303795" stroke-width="1.4"/>
<path d="M1344.3 776.7L1387.6 948.1" stroke="#303795" stroke-width="1.4"/>
<path d="M1359.3 1044.7L1324.5 704.8" stroke="#303795" stroke-width="1.4"/>
<path d="M1191.9 717.9L1442.8 817.5" stroke="#406cb4" stroke-width="2.4"/>
<path d="M1452 743.5A141.5 141.5 0 0 1 1191.9 717.9" stroke="#406cb4" stroke-width="1.6"/>
<path d="M1101.7 1123.1L1452 743.5" stroke="#406cb4" stroke-width="2.3"/>
<path d="M1101.7 1123.1L1507.6 780.7" stroke="#406cb4" stroke-width="2.3"/>
<path d="M989.8 1205.7A1126.3 1126.3 0 0 0 1452 743.5" stroke="#406cb4" stroke-width="2.3"/>
<path d="M1063.8 1196.5L1387.6 948.1" stroke="#406cb4" stroke-width="2.3"/>
<path d="M1063.8 1196.5L1452 743.5" stroke="#406cb4" stroke-width="2.3"/>
<path d="M1390.1 717.9L1369.4 855.4" stroke="#406cb4" stroke-width="2.3"/>
<path d="M1452 743.5L1369.4 855.4" stroke="#406cb4" stroke-width="2.3"/>
<path d="M951.1 1078.2L1630.9 1011.2" stroke="#2a9bd6" stroke-width="1.8"/>
<path d="M964.2 1143.8L1559 991.4" stroke="#2a9bd6" stroke-width="2.9"/>
<path d="M964.2 1143.8L1369.4 855.4" stroke="#2a9bd6" stroke-width="2.9"/>
<path d="M964.2 1143.8L1387.6 948.1" stroke="#2a9bd6" stroke-width="2.9"/>
<path d="M1452 743.5L1369.4 1234" stroke="#2a9bd6" stroke-width="2.9"/>
<path d="M1191.9 717.9L1387.6 948.1" stroke="#2cc3f3" stroke-width="3.3"/>
<path d="M1191.9 717.9L1369.4 855.4" stroke="#2cc3f3" stroke-width="3.3"/>
<path d="M1023 1098L1369.4 855.4" stroke="#2cc3f3" stroke-width="3.3"/>
<path d="M964.2 1143.8L1442.8 817.5" stroke="#2cc3f3" stroke-width="3.3"/>
<path d="M1194.4 1141.3L1369.4 855.4" stroke="#2cc3f3" stroke-width="3.3"/>
<path d="M1387.6 948.1L1518.2 1196.5" stroke="#2cc3f3" stroke-width="3.3"/>
<path d="M1023 1098L1507.6 780.7" stroke="#6ac8d6" stroke-width="3.8"/>
<path d="M951.1 1078.2L1387.6 948.1" stroke="#7dc8a9" stroke-width="4.1"/>
<path d="M1023 1098L1387.6 948.1" stroke="#7dc8a9" stroke-width="4.1"/>
<path d="M1194.4 1141.3L1630.9 1011.2" stroke="#7dc8a9" stroke-width="4.1"/>
<path d="M1063.8 1196.5A1374.2 1374.2 0 0 0 1442.8 817.5" stroke="#7dc8a9" stroke-width="4.1"/>
<path d="M1442.8 817.5L1390.1 1371.5" stroke="#7dc8a9" stroke-width="4.1"/>
<path d="M1390.1 717.9L1369.4 1234" stroke="#7dc8a9" stroke-width="4.1"/>
<path d="M1592.2 883.7L1369.4 1234" stroke="#8fc97c" stroke-width="4.4"/>
<path d="M1452 743.5A1126.3 1126.3 0 0 0 1324.5 1384.6" stroke="#8fc97c" stroke-width="4.4"/>
<path d="M951.1 1078.2L1442.8 817.5" stroke="#cfdd31" stroke-width="4.9"/>
<path d="M1023 1098L1630.9 1011.2" stroke="#cfdd31" stroke-width="4.9"/>
<path d="M1101.7 1123.1L1630.9 1011.2" stroke="#cfdd31" stroke-width="4.9"/>
<path d="M989.8 1205.7L1369.4 855.4" stroke="#cfdd31" stroke-width="4.9"/>
<path d="M989.8 1205.7L1387.6 948.1" stroke="#cfdd31" stroke-width="4.9"/>
<path d="M989.8 1205.7L1442.8 817.5" stroke="#cfdd31" stroke-width="4.9"/>
<path d="M1063.8 1196.5L1507.6 780.7" stroke="#cfdd31" stroke-width="4.9"/>
<path d="M1452 743.5A416.3 416.3 0 0 0 1555 1261.3" stroke="#cfdd31" stroke-width="4.9"/>
<path d="M1101.7 1123.1L1442.8 817.5" stroke="#f7ec1c" stroke-width="5.1"/>
<path d="M1344.3 776.7L1555 1261.3" stroke="#f7ec1c" stroke-width="5.1"/>
<path d="M1369.4 855.4L1390.1 1371.5" stroke="#f7ec1c" stroke-width="5.1"/>
<path d="M1324.5 704.8L1344.3 1312.7" stroke="#f7941d" stroke-width="5.5"/>
<path d="M1324.5 704.8A1717.7 1717.7 0 0 0 1390.1 1371.5" stroke="#f7941d" stroke-width="5.5"/>
<path d="M1344.3 776.7A1374.2 1374.2 0 0 0 1344.3 1312.7" stroke="#f7941d" stroke-width="5.5"/>
<path d="M1387.6 948.1L1390.1 1371.5" stroke="#f7941d" stroke-width="5.5"/>
<path d="M1359.3 1044.7L1390.1 1371.5" stroke="#f7941d" stroke-width="5.5"/>
<path d="M1344.3 776.7L1390.1 1371.5" stroke="#f05a28" stroke-width="5.8"/>
<path d="M1442.8 817.5A659.9 659.9 0 0 0 1344.3 1312.7" stroke="#f05a28" stroke-width="5.8"/>
<path d="M1452 743.5L1344.3 1312.7" stroke="#ed1c24" stroke-width="6"/>
<path d="M1369.4 855.4L1344.3 1312.7" stroke="#ed1c24" stroke-width="6"/>
<path d="M1359.3 1044.7L1344.3 1312.7" stroke="#ed1c24" stroke-width="6"/>
</g>
<g class="nodes">
<circle cx="1291" cy="1044.7" r="8.5"/>
<circle cx="1359.3" cy="1044.7" r="8.5"/>
<circle cx="1222.7" cy="1044.7" r="8.5"/>
<circle cx="1387.6" cy="948.1" r="8.5"/>
<circle cx="1387.6" cy="1141.3" r="8.5"/>
<circle cx="1194.4" cy="1141.3" r="8.5"/>
<circle cx="1194.4" cy="948.1" r="8.5"/>
<circle cx="1369.4" cy="855.4" r="8.5"/>
<circle cx="1480.3" cy="966.3" r="8.5"/>
<circle cx="1480.3" cy="1123.1" r="8.5"/>
<circle cx="1369.4" cy="1234" r="8.5"/>
<circle cx="1212.6" cy="1234" r="8.5"/>
<circle cx="1101.7" cy="1123.1" r="8.5"/>
<circle cx="1101.7" cy="966.3" r="8.5"/>
<circle cx="1212.6" cy="855.4" r="8.5"/>
<circle cx="1344.3" cy="776.7" r="8.5"/>
<circle cx="1442.8" cy="817.5" r="8.5"/>
<circle cx="1518.2" cy="892.9" r="8.5"/>
<circle cx="1559" cy="991.4" r="8.5"/>
<circle cx="1559" cy="1098" r="8.5"/>
<circle cx="1518.2" cy="1196.5" r="8.5"/>
<circle cx="1442.8" cy="1271.9" r="8.5"/>
<circle cx="1344.3" cy="1312.7" r="8.5"/>
<circle cx="1237.7" cy="1312.7" r="8.5"/>
<circle cx="1139.2" cy="1271.9" r="8.5"/>
<circle cx="1063.8" cy="1196.5" r="8.5"/>
<circle cx="1023" cy="1098" r="8.5"/>
<circle cx="1023" cy="991.4" r="8.5"/>
<circle cx="1063.8" cy="892.9" r="8.5"/>
<circle cx="1139.2" cy="817.5" r="8.5"/>
<circle cx="1237.7" cy="776.7" r="8.5"/>
<circle cx="1324.5" cy="704.8" r="8.5"/>
<circle cx="1390.1" cy="717.9" r="8.5"/>
<circle cx="1452" cy="743.5" r="8.5"/>
<circle cx="1507.6" cy="780.7" r="8.5"/>
<circle cx="1555" cy="828.1" r="8.5"/>
<circle cx="1592.2" cy="883.7" r="8.5"/>
<circle cx="1617.8" cy="945.6" r="8.5"/>
<circle cx="1630.9" cy="1011.2" r="8.5"/>
<circle cx="1630.9" cy="1078.2" r="8.5"/>
<circle cx="1617.8" cy="1143.8" r="8.5"/>
<circle cx="1592.2" cy="1205.7" r="8.5"/>
<circle cx="1555" cy="1261.3" r="8.5"/>
<circle cx="1507.6" cy="1308.7" r="8.5"/>
<circle cx="1452" cy="1345.9" r="8.5"/>
<circle cx="1390.1" cy="1371.5" r="8.5"/>
<circle cx="1324.5" cy="1384.6" r="8.5"/>
<circle cx="1257.5" cy="1384.6" r="8.5"/>
<circle cx="1191.9" cy="1371.5" r="8.5"/>
<circle cx="1130" cy="1345.9" r="8.5"/>
<circle cx="1074.4" cy="1308.7" r="8.5"/>
<circle cx="1027" cy="1261.3" r="8.5"/>
<circle cx="989.8" cy="1205.7" r="8.5"/>
<circle cx="964.2" cy="1143.8" r="8.5"/>
<circle cx="951.1" cy="1078.2" r="8.5"/>
<circle cx="951.1" cy="1011.2" r="8.5"/>
<circle cx="964.2" cy="945.6" r="8.5"/>
<circle cx="989.8" cy="883.7" r="8.5"/>
<circle cx="1027" cy="828.1" r="8.5"/>
<circle cx="1074.4" cy="780.7" r="8.5"/>
<circle cx="1130" cy="743.5" r="8.5"/>
<circle cx="1191.9" cy="717.9" r="8.5"/>
<circle cx="1257.5" cy="704.8" r="8.5"/>
</g>
</g>
<g id="B">
<g class="rings rb">
<circle cx="886.9" cy="1810.9" r="82"/>
<circle cx="886.9" cy="1810.9" r="164.1"/>
<circle cx="886.9" cy="1810.9" r="246.1"/>
<circle cx="886.9" cy="1810.9" r="328.2"/>
<circle cx="886.9" cy="1810.9" r="410.2"/>
</g>
<g class="edges">
<path d="M767.8 1418.3A40.4 40.4 0 0 0 846.7 1402.6" stroke="#303795" stroke-width="1.7"/>
<path d="M626.6 1493.8A81.6 81.6 0 0 0 767.8 1418.3" stroke="#303795" stroke-width="1.7"/>
<path d="M525.1 1617.5A40.4 40.4 0 0 0 569.8 1550.6" stroke="#303795" stroke-width="1.7"/>
<path d="M569.8 1550.6L804.9 1810.9" stroke="#303795" stroke-width="1.7"/>
<path d="M626.6 1493.8L804.9 1810.9" stroke="#303795" stroke-width="1.7"/>
<path d="M478.6 1770.7A336.9 336.9 0 0 0 846.7 1402.6" stroke="#303795" stroke-width="1.7"/>
<path d="M792.7 1583.5L804.9 1810.9" stroke="#303795" stroke-width="1.7"/>
<path d="M614 1628.6L804.9 1810.9" stroke="#303795" stroke-width="1.7"/>
<path d="M822.9 1489L804.9 1810.9" stroke="#303795" stroke-width="1.7"/>
<path d="M804.9 1810.9L886.9 1810.9" stroke="#303795" stroke-width="1.7"/>
<path d="M659.5 1716.7A102 102 0 0 0 792.7 1583.5" stroke="#303795" stroke-width="1.7"/>
<path d="M693.5 1449.1L804.9 1810.9" stroke="#303795" stroke-width="1.7"/>
<path d="M525.1 1617.5L804.9 1810.9" stroke="#303795" stroke-width="1.7"/>
<path d="M494.3 1691.8L804.9 1810.9" stroke="#303795" stroke-width="1.7"/>
<path d="M565 1746.9L804.9 1810.9" stroke="#303795" stroke-width="1.7"/>
<path d="M927.1 1402.6A40.4 40.4 0 0 0 1006 1418.3" stroke="#303795" stroke-width="1.7"/>
<path d="M927.1 1402.6L886.9 1810.9" stroke="#303795" stroke-width="1.7"/>
<path d="M927.1 1402.6L968.9 1810.9" stroke="#303795" stroke-width="1.7"/>
<path d="M1006 1418.3L886.9 1810.9" stroke="#303795" stroke-width="1.7"/>
<path d="M1006 1418.3L968.9 1810.9" stroke="#303795" stroke-width="1.7"/>
<path d="M1080.3 1449.1A40.4 40.4 0 0 0 1147.2 1493.8" stroke="#303795" stroke-width="1.7"/>
<path d="M1080.3 1449.1L886.9 1810.9" stroke="#303795" stroke-width="1.7"/>
<path d="M1147.2 1493.8L968.9 1810.9" stroke="#303795" stroke-width="1.7"/>
<path d="M981.1 1583.5L886.9 1810.9" stroke="#303795" stroke-width="1.7"/>
<path d="M1204 1550.6A40.4 40.4 0 0 0 1248.7 1617.5" stroke="#303795" stroke-width="1.7"/>
<path d="M1159.8 1628.6L968.9 1810.9" stroke="#303795" stroke-width="1.7"/>
<path d="M1204 1550.6A81.6 81.6 0 0 0 1279.5 1691.8" stroke="#303795" stroke-width="1.7"/>
<path d="M1159.8 1628.6A65.3 65.3 0 0 0 1208.8 1746.9" stroke="#303795" stroke-width="1.7"/>
<path d="M1208.8 1746.9L886.9 1810.9" stroke="#303795" stroke-width="1.7"/>
<path d="M886.9 1810.9L950.9 1489" stroke="#303795" stroke-width="1.7"/>
<path d="M886.9 1810.9L1069.2 1538" stroke="#303795" stroke-width="1.7"/>
<path d="M886.9 1810.9L1147.2 1493.8" stroke="#303795" stroke-width="1.7"/>
<path d="M886.9 1810.9L1159.8 1628.6" stroke="#303795" stroke-width="1.7"/>
<path d="M886.9 1810.9L1114.3 1716.7" stroke="#303795" stroke-width="1.7"/>
<path d="M968.9 1810.9L950.9 1489" stroke="#303795" stroke-width="1.7"/>
<path d="M968.9 1810.9L1069.2 1538" stroke="#303795" stroke-width="1.7"/>
<path d="M950.9 1489A136 136 0 0 0 1159.8 1628.6" stroke="#303795" stroke-width="1.7"/>
<path d="M886.9 1810.9L950.9 2132.8" stroke="#303795" stroke-width="1.7"/>
<path d="M886.9 1810.9L927.1 2219.2" stroke="#303795" stroke-width="1.7"/>
<path d="M886.9 1810.9L1006 2203.5" stroke="#303795" stroke-width="1.7"/>
<path d="M886.9 1810.9L1080.3 2172.7" stroke="#303795" stroke-width="1.7"/>
<path d="M886.9 1810.9L1069.2 2083.8" stroke="#303795" stroke-width="1.7"/>
<path d="M886.9 1810.9L1147.2 2128" stroke="#303795" stroke-width="1.7"/>
<path d="M886.9 1810.9L1114.3 1905.1" stroke="#303795" stroke-width="1.7"/>
<path d="M886.9 1810.9L1159.8 1993.2" stroke="#303795" stroke-width="1.7"/>
<path d="M886.9 1810.9L1204 2071.2" stroke="#303795" stroke-width="1.7"/>
<path d="M968.9 1810.9L1002.9 1926.9" stroke="#303795" stroke-width="1.7"/>
<path d="M968.9 1810.9L950.9 2132.8" stroke="#303795" stroke-width="1.7"/>
<path d="M968.9 1810.9L1006 2203.5" stroke="#303795" stroke-width="1.7"/>
<path d="M968.9 1810.9L1069.2 2083.8" stroke="#303795" stroke-width="1.7"/>
<path d="M981.1 2038.3A102 102 0 0 1 1114.3 1905.1" stroke="#303795" stroke-width="1.7"/>
<path d="M1069.2 2083.8A65.3 65.3 0 0 1 1159.8 1993.2" stroke="#303795" stroke-width="1.7"/>
<path d="M1069.2 2083.8A136 136 0 0 1 1208.8 1874.9" stroke="#303795" stroke-width="1.7"/>
<path d="M1159.8 1993.2A65.3 65.3 0 0 1 1208.8 1874.9" stroke="#303795" stroke-width="1.7"/>
<path d="M1147.2 2128A81.6 81.6 0 0 1 1248.7 2004.3" stroke="#303795" stroke-width="1.7"/>
<path d="M1204 2071.2A81.6 81.6 0 0 1 1279.5 1930" stroke="#303795" stroke-width="1.7"/>
<path d="M950.9 2132.8A136 136 0 0 1 1159.8 1993.2" stroke="#303795" stroke-width="1.7"/>
<path d="M494.3 1930A40.4 40.4 0 0 0 478.6 1851.1" stroke="#303795" stroke-width="1.7"/>
<path d="M478.6 1851.1A274.3 274.3 0 0 1 767.8 2203.5" stroke="#303795" stroke-width="1.7"/>
<path d="M565 1874.9L804.9 1810.9" stroke="#303795" stroke-width="1.7"/>
<path d="M525.1 2004.3L804.9 1810.9" stroke="#303795" stroke-width="1.7"/>
<path d="M569.8 2071.2L804.9 1810.9" stroke="#303795" stroke-width="1.7"/>
<path d="M693.5 2172.7A40.4 40.4 0 0 0 626.6 2128" stroke="#303795" stroke-width="1.7"/>
<path d="M767.8 2203.5L804.9 1810.9" stroke="#303795" stroke-width="1.7"/>
<path d="M886.9 1810.9L659.5 1905.1" stroke="#303795" stroke-width="1.7"/>
<path d="M659.5 1905.1A102 102 0 0 1 792.7 2038.3" stroke="#303795" stroke-width="1.7"/>
<path d="M886.9 1810.9L770.9 1926.9" stroke="#303795" stroke-width="1.7"/>
<path d="M569.8 1550.6L770.9 1694.9" stroke="#394fa2" stroke-width="2.1"/>
<path d="M626.6 1493.8L770.9 1694.9" stroke="#394fa2" stroke-width="2.1"/>
<path d="M478.6 1770.7L804.9 1810.9" stroke="#394fa2" stroke-width="2.1"/>
<path d="M659.5 1716.7L804.9 1810.9" stroke="#394fa2" stroke-width="2.1"/>
<path d="M822.9 1489L770.9 1694.9" stroke="#394fa2" stroke-width="2.1"/>
<path d="M1006 1418.3L1069.2 1538" stroke="#394fa2" stroke-width="2.1"/>
<path d="M1080.3 1449.1L1002.9 1694.9" stroke="#394fa2" stroke-width="2.1"/>
<path d="M950.9 1489L1248.7 1617.5" stroke="#394fa2" stroke-width="2.1"/>
<path d="M1208.8 1746.9L968.9 1810.9" stroke="#394fa2" stroke-width="2.1"/>
<path d="M886.9 1810.9L1002.9 1694.9" stroke="#394fa2" stroke-width="2.1"/>
<path d="M981.1 2038.3L1204 2071.2" stroke="#394fa2" stroke-width="2.1"/>
<path d="M981.1 2038.3L1159.8 1993.2" stroke="#394fa2" stroke-width="2.1"/>
<path d="M981.1 2038.3L1248.7 2004.3" stroke="#394fa2" stroke-width="2.1"/>
<path d="M1069.2 2083.8L1114.3 1905.1" stroke="#394fa2" stroke-width="2.1"/>
<path d="M1069.2 2083.8L1279.5 1930" stroke="#394fa2" stroke-width="2.1"/>
<path d="M1069.2 2083.8L1248.7 2004.3" stroke="#394fa2" stroke-width="2.1"/>
<path d="M1204 2071.2L1114.3 1905.1" stroke="#394fa2" stroke-width="2.1"/>
<path d="M1204 2071.2L1159.8 1993.2" stroke="#394fa2" stroke-width="2.1"/>
<path d="M1204 2071.2L1069.2 2083.8" stroke="#394fa2" stroke-width="2.1"/>
<path d="M1147.2 2128L1159.8 1993.2" stroke="#394fa2" stroke-width="2.1"/>
<path d="M1147.2 2128L1114.3 1905.1" stroke="#394fa2" stroke-width="2.1"/>
<path d="M1147.2 2128L981.1 2038.3" stroke="#394fa2" stroke-width="2.1"/>
<path d="M950.9 2132.8L1114.3 1905.1" stroke="#394fa2" stroke-width="2.1"/>
<path d="M1080.3 2172.7L1159.8 1993.2" stroke="#394fa2" stroke-width="2.1"/>
<path d="M1204 2071.2L1002.9 1926.9" stroke="#394fa2" stroke-width="2.1"/>
<path d="M1147.2 2128L1002.9 1926.9" stroke="#394fa2" stroke-width="2.1"/>
<path d="M1248.7 2004.3L1114.3 1905.1" stroke="#394fa2" stroke-width="2.1"/>
<path d="M1248.7 2004.3L1002.9 1926.9" stroke="#394fa2" stroke-width="2.1"/>
<path d="M1204 2071.2L1208.8 1874.9" stroke="#394fa2" stroke-width="2.1"/>
<path d="M981.1 2038.3L1208.8 1874.9" stroke="#394fa2" stroke-width="2.1"/>
<path d="M981.1 2038.3L1279.5 1930" stroke="#394fa2" stroke-width="2.1"/>
<path d="M1080.3 2172.7L1114.3 1905.1" stroke="#394fa2" stroke-width="2.1"/>
<path d="M1147.2 2128L1208.8 1874.9" stroke="#394fa2" stroke-width="2.1"/>
<path d="M525.1 2004.3L770.9 1926.9" stroke="#394fa2" stroke-width="2.1"/>
<path d="M569.8 2071.2L770.9 1926.9" stroke="#394fa2" stroke-width="2.1"/>
<path d="M767.8 2203.5L792.7 2038.3" stroke="#394fa2" stroke-width="2.1"/>
<path d="M767.8 2203.5L770.9 1926.9" stroke="#394fa2" stroke-width="2.1"/>
<path d="M565 1874.9L767.8 2203.5" stroke="#394fa2" stroke-width="2.1"/>
<path d="M659.5 1905.1L767.8 2203.5" stroke="#394fa2" stroke-width="2.1"/>
<path d="M569.8 2071.2L659.5 1905.1" stroke="#394fa2" stroke-width="2.1"/>
<path d="M822.9 1489L792.7 1583.5" stroke="#406cb4" stroke-width="2.8"/>
<path d="M693.5 1449.1L770.9 1694.9" stroke="#406cb4" stroke-width="2.8"/>
<path d="M494.3 1691.8L770.9 1694.9" stroke="#406cb4" stroke-width="2.8"/>
<path d="M494.3 1691.8L659.5 1716.7" stroke="#406cb4" stroke-width="2.8"/>
<path d="M770.9 1694.9L804.9 1810.9" stroke="#406cb4" stroke-width="2.8"/>
<path d="M704.6 1538L770.9 1694.9" stroke="#406cb4" stroke-width="2.8"/>
<path d="M704.6 1538L804.9 1810.9" stroke="#406cb4" stroke-width="2.8"/>
<path d="M1069.2 1538L1248.7 1617.5" stroke="#406cb4" stroke-width="2.8"/>
<path d="M981.1 1583.5L968.9 1810.9" stroke="#406cb4" stroke-width="2.8"/>
<path d="M1204 1550.6L1208.8 1746.9" stroke="#406cb4" stroke-width="2.8"/>
<path d="M1204 1550.6L1002.9 1694.9" stroke="#406cb4" stroke-width="2.8"/>
<path d="M1279.5 1691.8L1002.9 1694.9" stroke="#406cb4" stroke-width="2.8"/>
<path d="M1295.2 1770.7L968.9 1810.9" stroke="#406cb4" stroke-width="2.8"/>
<path d="M968.9 1810.9L1114.3 1716.7" stroke="#406cb4" stroke-width="2.8"/>
<path d="M886.9 1810.9L1208.8 1874.9" stroke="#406cb4" stroke-width="2.8"/>
<path d="M886.9 1810.9L1295.2 1851.1" stroke="#406cb4" stroke-width="2.8"/>
<path d="M968.9 1810.9L1114.3 1905.1" stroke="#406cb4" stroke-width="2.8"/>
<path d="M968.9 1810.9L1208.8 1874.9" stroke="#406cb4" stroke-width="2.8"/>
<path d="M494.3 1930L659.5 1905.1" stroke="#406cb4" stroke-width="2.8"/>
<path d="M614 1993.2L770.9 1926.9" stroke="#406cb4" stroke-width="2.8"/>
<path d="M693.5 2172.7L792.7 2038.3" stroke="#406cb4" stroke-width="2.8"/>
<path d="M626.6 1493.8L704.6 1538" stroke="#2a9bd6" stroke-width="3.5"/>
<path d="M767.8 1418.3L770.9 1694.9" stroke="#2a9bd6" stroke-width="3.5"/>
<path d="M767.8 1418.3L792.7 1583.5" stroke="#2a9bd6" stroke-width="3.5"/>
<path d="M767.8 1418.3L886.9 1810.9" stroke="#2a9bd6" stroke-width="3.5"/>
<path d="M767.8 1418.3L804.9 1810.9" stroke="#2a9bd6" stroke-width="3.5"/>
<path d="M968.9 1810.9L1002.9 1694.9" stroke="#2a9bd6" stroke-width="3.5"/>
<path d="M968.9 1810.9L1295.2 1851.1" stroke="#2a9bd6" stroke-width="3.5"/>
<path d="M886.9 1810.9L981.1 2038.3" stroke="#2a9bd6" stroke-width="3.5"/>
<path d="M659.5 1905.1L804.9 1810.9" stroke="#2a9bd6" stroke-width="3.5"/>
<path d="M614 1993.2L804.9 1810.9" stroke="#2a9bd6" stroke-width="3.5"/>
<path d="M626.6 2128L770.9 1926.9" stroke="#2a9bd6" stroke-width="3.5"/>
<path d="M626.6 2128L804.9 1810.9" stroke="#2a9bd6" stroke-width="3.5"/>
<path d="M1080.3 1449.1L981.1 1583.5" stroke="#2cc3f3" stroke-width="4"/>
<path d="M1147.2 1493.8L1002.9 1694.9" stroke="#2cc3f3" stroke-width="4"/>
<path d="M981.1 1583.5L1248.7 1617.5" stroke="#2cc3f3" stroke-width="4"/>
<path d="M1279.5 1691.8L1114.3 1716.7" stroke="#2cc3f3" stroke-width="4"/>
<path d="M968.9 1810.9L1080.3 2172.7" stroke="#2cc3f3" stroke-width="4"/>
<path d="M968.9 1810.9L981.1 2038.3" stroke="#2cc3f3" stroke-width="4"/>
<path d="M981.1 2038.3L950.9 2132.8" stroke="#2cc3f3" stroke-width="4"/>
<path d="M950.9 2132.8L1006 2203.5" stroke="#2cc3f3" stroke-width="4"/>
<path d="M886.9 1810.9L1002.9 1926.9" stroke="#2cc3f3" stroke-width="4"/>
<path d="M804.9 1810.9L846.7 2219.2" stroke="#2cc3f3" stroke-width="4"/>
<path d="M792.7 2038.3L822.9 2132.8" stroke="#2cc3f3" stroke-width="4"/>
<path d="M704.6 2083.8L804.9 1810.9" stroke="#2cc3f3" stroke-width="4"/>
<path d="M614 1628.6L770.9 1694.9" stroke="#6ac8d6" stroke-width="4.6"/>
<path d="M565 1746.9L770.9 1694.9" stroke="#6ac8d6" stroke-width="4.6"/>
<path d="M792.7 1583.5L770.9 1694.9" stroke="#6ac8d6" stroke-width="4.6"/>
<path d="M659.5 1905.1L770.9 1926.9" stroke="#6ac8d6" stroke-width="4.6"/>
<path d="M525.1 2004.3L659.5 1905.1" stroke="#6ac8d6" stroke-width="4.6"/>
<path d="M804.9 1810.9L822.9 2132.8" stroke="#6ac8d6" stroke-width="4.6"/>
<path d="M693.5 2172.7L770.9 1926.9" stroke="#6ac8d6" stroke-width="4.6"/>
<path d="M693.5 1449.1L792.7 1583.5" stroke="#7dc8a9" stroke-width="5"/>
<path d="M478.6 1770.7L565 1746.9" stroke="#7dc8a9" stroke-width="5"/>
<path d="M565 1746.9L659.5 1716.7" stroke="#7dc8a9" stroke-width="5"/>
<path d="M1006 1418.3L981.1 1583.5" stroke="#7dc8a9" stroke-width="5"/>
<path d="M1006 1418.3L1002.9 1694.9" stroke="#7dc8a9" stroke-width="5"/>
<path d="M1159.8 1628.6L1002.9 1694.9" stroke="#7dc8a9" stroke-width="5"/>
<path d="M1114.3 1716.7L1002.9 1694.9" stroke="#7dc8a9" stroke-width="5"/>
<path d="M1159.8 1993.2L1248.7 2004.3" stroke="#7dc8a9" stroke-width="5"/>
<path d="M1002.9 1926.9L1080.3 2172.7" stroke="#7dc8a9" stroke-width="5"/>
<path d="M494.3 1930L565 1874.9" stroke="#7dc8a9" stroke-width="5"/>
<path d="M704.6 2083.8L770.9 1926.9" stroke="#7dc8a9" stroke-width="5"/>
<path d="M846.7 1402.6L822.9 1489" stroke="#8fc97c" stroke-width="5.4"/>
<path d="M525.1 1617.5L770.9 1694.9" stroke="#8fc97c" stroke-width="5.4"/>
<path d="M614 1628.6L659.5 1716.7" stroke="#8fc97c" stroke-width="5.4"/>
<path d="M494.3 1691.8L565 1746.9" stroke="#8fc97c" stroke-width="5.4"/>
<path d="M950.9 1489L981.1 1583.5" stroke="#8fc97c" stroke-width="5.4"/>
<path d="M1069.2 1538L1002.9 1694.9" stroke="#8fc97c" stroke-width="5.4"/>
<path d="M1248.7 1617.5L1114.3 1716.7" stroke="#8fc97c" stroke-width="5.4"/>
<path d="M1248.7 1617.5L968.9 1810.9" stroke="#8fc97c" stroke-width="5.4"/>
<path d="M1248.7 1617.5L886.9 1810.9" stroke="#8fc97c" stroke-width="5.4"/>
<path d="M1279.5 1691.8L1208.8 1746.9" stroke="#8fc97c" stroke-width="5.4"/>
<path d="M968.9 1810.9L1279.5 1930" stroke="#8fc97c" stroke-width="5.4"/>
<path d="M1295.2 1851.1L1159.8 1993.2" stroke="#8fc97c" stroke-width="5.4"/>
<path d="M1002.9 1926.9L1159.8 1993.2" stroke="#8fc97c" stroke-width="5.4"/>
<path d="M1069.2 2083.8L1080.3 2172.7" stroke="#8fc97c" stroke-width="5.4"/>
<path d="M478.6 1851.1L565 1874.9" stroke="#8fc97c" stroke-width="5.4"/>
<path d="M565 1874.9L659.5 1905.1" stroke="#8fc97c" stroke-width="5.4"/>
<path d="M804.9 1810.9L792.7 2038.3" stroke="#8fc97c" stroke-width="5.4"/>
<path d="M822.9 2132.8L767.8 2203.5" stroke="#8fc97c" stroke-width="5.4"/>
<path d="M767.8 1418.3L822.9 1489" stroke="#cfdd31" stroke-width="6"/>
<path d="M569.8 1550.6L614 1628.6" stroke="#cfdd31" stroke-width="6"/>
<path d="M1006 1418.3L950.9 1489" stroke="#cfdd31" stroke-width="6"/>
<path d="M1080.3 1449.1L1069.2 1538" stroke="#cfdd31" stroke-width="6"/>
<path d="M1248.7 1617.5L1159.8 1628.6" stroke="#cfdd31" stroke-width="6"/>
<path d="M1159.8 1628.6L1114.3 1716.7" stroke="#cfdd31" stroke-width="6"/>
<path d="M1208.8 1874.9L1295.2 1851.1" stroke="#cfdd31" stroke-width="6"/>
<path d="M1248.7 2004.3L1208.8 1874.9" stroke="#cfdd31" stroke-width="6"/>
<path d="M1002.9 1926.9L981.1 2038.3" stroke="#cfdd31" stroke-width="6"/>
<path d="M981.1 2038.3L1080.3 2172.7" stroke="#cfdd31" stroke-width="6"/>
<path d="M1069.2 2083.8L1147.2 2128" stroke="#cfdd31" stroke-width="6"/>
<path d="M950.9 2132.8L927.1 2219.2" stroke="#cfdd31" stroke-width="6"/>
<path d="M614 1993.2L525.1 2004.3" stroke="#cfdd31" stroke-width="6"/>
<path d="M614 1993.2L569.8 2071.2" stroke="#cfdd31" stroke-width="6"/>
<path d="M792.7 2038.3L704.6 2083.8" stroke="#cfdd31" stroke-width="6"/>
<path d="M822.9 2132.8L846.7 2219.2" stroke="#cfdd31" stroke-width="6"/>
<path d="M693.5 1449.1L704.6 1538" stroke="#f7ec1c" stroke-width="6.2"/>
<path d="M704.6 1538L792.7 1583.5" stroke="#f7ec1c" stroke-width="6.2"/>
<path d="M525.1 1617.5L614 1628.6" stroke="#f7ec1c" stroke-width="6.2"/>
<path d="M525.1 1617.5L659.5 1716.7" stroke="#f7ec1c" stroke-width="6.2"/>
<path d="M927.1 1402.6L950.9 1489" stroke="#f7ec1c" stroke-width="6.2"/>
<path d="M1147.2 1493.8L1069.2 1538" stroke="#f7ec1c" stroke-width="6.2"/>
<path d="M1069.2 1538L981.1 1583.5" stroke="#f7ec1c" stroke-width="6.2"/>
<path d="M1204 1550.6L1159.8 1628.6" stroke="#f7ec1c" stroke-width="6.2"/>
<path d="M1248.7 1617.5L1002.9 1694.9" stroke="#f7ec1c" stroke-width="6.2"/>
<path d="M1002.9 1926.9L1114.3 1905.1" stroke="#f7ec1c" stroke-width="6.2"/>
<path d="M1002.9 1926.9L1208.8 1874.9" stroke="#f7ec1c" stroke-width="6.2"/>
<path d="M659.5 1905.1L614 1993.2" stroke="#f7ec1c" stroke-width="6.2"/>
<path d="M704.6 2083.8L626.6 2128" stroke="#f7ec1c" stroke-width="6.2"/>
<path d="M704.6 2083.8L693.5 2172.7" stroke="#f7ec1c" stroke-width="6.2"/>
<path d="M659.5 1716.7L770.9 1694.9" stroke="#fdc70c" stroke-width="6.5"/>
<path d="M886.9 1810.9L1279.5 1930" stroke="#fdc70c" stroke-width="6.5"/>
<path d="M981.1 2038.3L1069.2 2083.8" stroke="#fdc70c" stroke-width="6.5"/>
<path d="M981.1 1583.5L1002.9 1694.9" stroke="#f7941d" stroke-width="6.7"/>
<path d="M1114.3 1716.7L1208.8 1746.9" stroke="#f7941d" stroke-width="6.7"/>
<path d="M1208.8 1746.9L1295.2 1770.7" stroke="#f7941d" stroke-width="6.7"/>
<path d="M886.9 1810.9L968.9 1810.9" stroke="#f7941d" stroke-width="6.7"/>
<path d="M1002.9 1926.9L1279.5 1930" stroke="#f7941d" stroke-width="6.7"/>
<path d="M1159.8 1993.2L1279.5 1930" stroke="#f7941d" stroke-width="6.7"/>
<path d="M770.9 1926.9L804.9 1810.9" stroke="#f7941d" stroke-width="6.7"/>
<path d="M770.9 1926.9L792.7 2038.3" stroke="#f7941d" stroke-width="6.7"/>
<path d="M1114.3 1905.1L1279.5 1930" stroke="#f05a28" stroke-width="7.1"/>
<path d="M1208.8 1874.9L1279.5 1930" stroke="#f05a28" stroke-width="7.1"/>
<path d="M1114.3 1905.1L1159.8 1993.2" stroke="#ed1c24" stroke-width="7.3"/>
<path d="M1279.5 1930A40.4 40.4 0 0 0 1248.7 2004.3" stroke="#ed1c24" stroke-width="7.3"/>
</g>
<g class="nodes">
<circle cx="886.9" cy="1810.9" r="9.8"/>
<circle cx="968.9" cy="1810.9" r="9.8"/>
<circle cx="804.9" cy="1810.9" r="9.8"/>
<circle cx="1002.9" cy="1694.9" r="9.8"/>
<circle cx="1002.9" cy="1926.9" r="9.8"/>
<circle cx="770.9" cy="1926.9" r="9.8"/>
<circle cx="770.9" cy="1694.9" r="9.8"/>
<circle cx="981.1" cy="1583.5" r="9.8"/>
<circle cx="1114.3" cy="1716.7" r="9.8"/>
<circle cx="1114.3" cy="1905.1" r="9.8"/>
<circle cx="981.1" cy="2038.3" r="9.8"/>
<circle cx="792.7" cy="2038.3" r="9.8"/>
<circle cx="659.5" cy="1905.1" r="9.8"/>
<circle cx="659.5" cy="1716.7" r="9.8"/>
<circle cx="792.7" cy="1583.5" r="9.8"/>
<circle cx="950.9" cy="1489" r="9.8"/>
<circle cx="1069.2" cy="1538" r="9.8"/>
<circle cx="1159.8" cy="1628.6" r="9.8"/>
<circle cx="1208.8" cy="1746.9" r="9.8"/>
<circle cx="1208.8" cy="1874.9" r="9.8"/>
<circle cx="1159.8" cy="1993.2" r="9.8"/>
<circle cx="1069.2" cy="2083.8" r="9.8"/>
<circle cx="950.9" cy="2132.8" r="9.8"/>
<circle cx="822.9" cy="2132.8" r="9.8"/>
<circle cx="704.6" cy="2083.8" r="9.8"/>
<circle cx="614" cy="1993.2" r="9.8"/>
<circle cx="565" cy="1874.9" r="9.8"/>
<circle cx="565" cy="1746.9" r="9.8"/>
<circle cx="614" cy="1628.6" r="9.8"/>
<circle cx="704.6" cy="1538" r="9.8"/>
<circle cx="822.9" cy="1489" r="9.8"/>
<circle cx="927.1" cy="1402.6" r="9.8"/>
<circle cx="1006" cy="1418.3" r="9.8"/>
<circle cx="1080.3" cy="1449.1" r="9.8"/>
<circle cx="1147.2" cy="1493.8" r="9.8"/>
<circle cx="1204" cy="1550.6" r="9.8"/>
<circle cx="1248.7" cy="1617.5" r="9.8"/>
<circle cx="1279.5" cy="1691.8" r="9.8"/>
<circle cx="1295.2" cy="1770.7" r="9.8"/>
<circle cx="1295.2" cy="1851.1" r="9.8"/>
<circle cx="1279.5" cy="1930" r="9.8"/>
<circle cx="1248.7" cy="2004.3" r="9.8"/>
<circle cx="1204" cy="2071.2" r="9.8"/>
<circle cx="1147.2" cy="2128" r="9.8"/>
<circle cx="1080.3" cy="2172.7" r="9.8"/>
<circle cx="1006" cy="2203.5" r="9.8"/>
<circle cx="927.1" cy="2219.2" r="9.8"/>
<circle cx="846.7" cy="2219.2" r="9.8"/>
<circle cx="767.8" cy="2203.5" r="9.8"/>
<circle cx="693.5" cy="2172.7" r="9.8"/>
<circle cx="626.6" cy="2128" r="9.8"/>
<circle cx="569.8" cy="2071.2" r="9.8"/>
<circle cx="525.1" cy="2004.3" r="9.8"/>
<circle cx="494.3" cy="1930" r="9.8"/>
<circle cx="478.6" cy="1851.1" r="9.8"/>
<circle cx="478.6" cy="1770.7" r="9.8"/>
<circle cx="494.3" cy="1691.8" r="9.8"/>
<circle cx="525.1" cy="1617.5" r="9.8"/>
<circle cx="569.8" cy="1550.6" r="9.8"/>
<circle cx="626.6" cy="1493.8" r="9.8"/>
<circle cx="693.5" cy="1449.1" r="9.8"/>
<circle cx="767.8" cy="1418.3" r="9.8"/>
<circle cx="846.7" cy="1402.6" r="9.8"/>
</g>
</g>
<text transform="translate(0.4 47.3) scale(1.09 1)" font-size="45.5" font-weight="bold">A</text>
<text x="514" y="1474.7" font-size="45.5" font-weight="bold">B</text>
<text transform="translate(30.5 95.3) scale(1.035 1)" font-size="34.2">Quadrant I</text>
<text transform="translate(848.2 95.3) scale(1.035 1)" font-size="34.2">Quadrant II</text>
<text transform="translate(30.5 791.6) scale(1.035 1)" font-size="34.2">Quadrant III</text>
<text transform="translate(848.2 791.6) scale(1.035 1)" font-size="34.2">Quadrant IV</text>
<g id="cbA" shape-rendering="crispEdges">
<rect x="1658" y="146.2" width="42.2" height="3.6" fill="#7e171a"/>
<rect x="1658" y="149.2" width="42.2" height="3.6" fill="#81181b"/>
<rect x="1658" y="152.2" width="42.2" height="3.6" fill="#83181b"/>
<rect x="1658" y="155.2" width="42.2" height="3.6" fill="#86181c"/>
<rect x="1658" y="158.2" width="42.2" height="3.6" fill="#89191c"/>
<rect x="1658" y="161.2" width="42.2" height="3.6" fill="#8b191d"/>
<rect x="1658" y="164.2" width="42.2" height="3.6" fill="#8e191d"/>
<rect x="1658" y="167.2" width="42.2" height="3.6" fill="#901a1d"/>
<rect x="1658" y="170.2" width="42.2" height="3.6" fill="#931a1e"/>
<rect x="1658" y="173.2" width="42.2" height="3.6" fill="#951a1e"/>
<rect x="1658" y="176.2" width="42.2" height="3.6" fill="#981b1f"/>
<rect x="1658" y="179.2" width="42.2" height="3.6" fill="#9a1b1f"/>
<rect x="1658" y="182.2" width="42.2" height="3.6" fill="#9d1c20"/>
<rect x="1658" y="185.2" width="42.2" height="3.6" fill="#a01c20"/>
<rect x="1658" y="188.2" width="42.2" height="3.6" fill="#a21c21"/>
<rect x="1658" y="191.2" width="42.2" height="3.6" fill="#a51d21"/>
<rect x="1658" y="194.2" width="42.2" height="3.6" fill="#a71d22"/>
<rect x="1658" y="197.2" width="42.2" height="3.6" fill="#aa1d22"/>
<rect x="1658" y="200.2" width="42.2" height="3.6" fill="#ac1e22"/>
<rect x="1658" y="203.2" width="42.2" height="3.6" fill="#af1e23"/>
<rect x="1658" y="206.2" width="42.2" height="3.6" fill="#b21f23"/>
<rect x="1658" y="209.2" width="42.2" height="3.6" fill="#b41f24"/>
<rect x="1658" y="212.2" width="42.2" height="3.6" fill="#b71f24"/>
<rect x="1658" y="215.2" width="42.2" height="3.6" fill="#b91f24"/>
<rect x="1658" y="218.2" width="42.2" height="3.6" fill="#bb1f24"/>
<rect x="1658" y="221.2" width="42.2" height="3.6" fill="#be1f24"/>
<rect x="1658" y="224.2" width="42.2" height="3.6" fill="#c01e24"/>
<rect x="1658" y="227.2" width="42.2" height="3.6" fill="#c21e24"/>
<rect x="1658" y="230.2" width="42.2" height="3.6" fill="#c51e24"/>
<rect x="1658" y="233.2" width="42.2" height="3.6" fill="#c71e24"/>
<rect x="1658" y="236.2" width="42.2" height="3.6" fill="#c91e24"/>
<rect x="1658" y="239.2" width="42.2" height="3.6" fill="#cc1e24"/>
<rect x="1658" y="242.2" width="42.2" height="3.6" fill="#ce1e24"/>
<rect x="1658" y="245.2" width="42.2" height="3.6" fill="#d11e24"/>
<rect x="1658" y="248.2" width="42.2" height="3.6" fill="#d31d24"/>
<rect x="1658" y="251.2" width="42.2" height="3.6" fill="#d51d24"/>
<rect x="1658" y="254.2" width="42.2" height="3.6" fill="#d81d24"/>
<rect x="1658" y="257.2" width="42.2" height="3.6" fill="#da1d24"/>
<rect x="1658" y="260.2" width="42.2" height="3.6" fill="#dc1d24"/>
<rect x="1658" y="263.2" width="42.2" height="3.6" fill="#df1d24"/>
<rect x="1658" y="266.2" width="42.2" height="3.6" fill="#e11d24"/>
<rect x="1658" y="269.2" width="42.2" height="3.6" fill="#e41d24"/>
<rect x="1658" y="272.2" width="42.2" height="3.6" fill="#e61c24"/>
<rect x="1658" y="275.2" width="42.2" height="3.6" fill="#e81c24"/>
<rect x="1658" y="278.2" width="42.2" height="3.6" fill="#eb1c24"/>
<rect x="1658" y="281.2" width="42.2" height="3.6" fill="#ed1c24"/>
<rect x="1658" y="284.2" width="42.2" height="3.6" fill="#ed2024"/>
<rect x="1658" y="287.2" width="42.2" height="3.6" fill="#ed2424"/>
<rect x="1658" y="290.2" width="42.2" height="3.6" fill="#ee2725"/>
<rect x="1658" y="293.2" width="42.2" height="3.6" fill="#ee2b25"/>
<rect x="1658" y="296.2" width="42.2" height="3.6" fill="#ee2f25"/>
<rect x="1658" y="299.2" width="42.2" height="3.6" fill="#ee3325"/>
<rect x="1658" y="302.2" width="42.2" height="3.6" fill="#ee3626"/>
<rect x="1658" y="305.2" width="42.2" height="3.6" fill="#ee3a26"/>
<rect x="1658" y="308.2" width="42.2" height="3.6" fill="#ef3e26"/>
<rect x="1658" y="311.2" width="42.2" height="3.6" fill="#ef4226"/>
<rect x="1658" y="314.2" width="42.2" height="3.6" fill="#ef4627"/>
<rect x="1658" y="317.2" width="42.2" height="3.6" fill="#ef4927"/>
<rect x="1658" y="320.2" width="42.2" height="3.6" fill="#ef4d27"/>
<rect x="1658" y="323.2" width="42.2" height="3.6" fill="#f05127"/>
<rect x="1658" y="326.2" width="42.2" height="3.6" fill="#f05528"/>
<rect x="1658" y="329.2" width="42.2" height="3.6" fill="#f05828"/>
<rect x="1658" y="332.2" width="42.2" height="3.6" fill="#f05c28"/>
<rect x="1658" y="335.2" width="42.2" height="3.6" fill="#f15e27"/>
<rect x="1658" y="338.2" width="42.2" height="3.6" fill="#f16127"/>
<rect x="1658" y="341.2" width="42.2" height="3.6" fill="#f16426"/>
<rect x="1658" y="344.2" width="42.2" height="3.6" fill="#f16626"/>
<rect x="1658" y="347.2" width="42.2" height="3.6" fill="#f26925"/>
<rect x="1658" y="350.2" width="42.2" height="3.6" fill="#f26c25"/>
<rect x="1658" y="353.2" width="42.2" height="3.6" fill="#f26e24"/>
<rect x="1658" y="356.2" width="42.2" height="3.6" fill="#f37124"/>
<rect x="1658" y="359.2" width="42.2" height="3.6" fill="#f37323"/>
<rect x="1658" y="362.2" width="42.2" height="3.6" fill="#f37623"/>
<rect x="1658" y="365.2" width="42.2" height="3.6" fill="#f47922"/>
<rect x="1658" y="368.2" width="42.2" height="3.6" fill="#f47b22"/>
<rect x="1658" y="371.2" width="42.2" height="3.6" fill="#f47e21"/>
<rect x="1658" y="374.2" width="42.2" height="3.6" fill="#f58121"/>
<rect x="1658" y="377.2" width="42.2" height="3.6" fill="#f58320"/>
<rect x="1658" y="380.2" width="42.2" height="3.6" fill="#f58620"/>
<rect x="1658" y="383.2" width="42.2" height="3.6" fill="#f6891f"/>
<rect x="1658" y="386.2" width="42.2" height="3.6" fill="#f68b1f"/>
<rect x="1658" y="389.2" width="42.2" height="3.6" fill="#f68e1e"/>
<rect x="1658" y="392.2" width="42.2" height="3.6" fill="#f7911e"/>
<rect x="1658" y="395.2" width="42.2" height="3.6" fill="#f7931d"/>
<rect x="1658" y="398.2" width="42.2" height="3.6" fill="#f7961c"/>
<rect x="1658" y="401.2" width="42.2" height="3.6" fill="#f7981c"/>
<rect x="1658" y="404.2" width="42.2" height="3.6" fill="#f89a1b"/>
<rect x="1658" y="407.2" width="42.2" height="3.6" fill="#f89c1a"/>
<rect x="1658" y="410.2" width="42.2" height="3.6" fill="#f89e1a"/>
<rect x="1658" y="413.2" width="42.2" height="3.6" fill="#f8a019"/>
<rect x="1658" y="416.2" width="42.2" height="3.6" fill="#f9a218"/>
<rect x="1658" y="419.2" width="42.2" height="3.6" fill="#f9a418"/>
<rect x="1658" y="422.2" width="42.2" height="3.6" fill="#f9a617"/>
<rect x="1658" y="425.2" width="42.2" height="3.6" fill="#f9a816"/>
<rect x="1658" y="428.2" width="42.2" height="3.6" fill="#faaa16"/>
<rect x="1658" y="431.2" width="42.2" height="3.6" fill="#faac15"/>
<rect x="1658" y="434.2" width="42.2" height="3.6" fill="#faae14"/>
<rect x="1658" y="437.2" width="42.2" height="3.6" fill="#fab014"/>
<rect x="1658" y="440.2" width="42.2" height="3.6" fill="#fab213"/>
<rect x="1658" y="443.2" width="42.2" height="3.6" fill="#fbb412"/>
<rect x="1658" y="446.2" width="42.2" height="3.6" fill="#fbb612"/>
<rect x="1658" y="449.2" width="42.2" height="3.6" fill="#fbb811"/>
<rect x="1658" y="452.2" width="42.2" height="3.6" fill="#fbba10"/>
<rect x="1658" y="455.2" width="42.2" height="3.6" fill="#fcbc10"/>
<rect x="1658" y="458.2" width="42.2" height="3.6" fill="#fcbe0f"/>
<rect x="1658" y="461.2" width="42.2" height="3.6" fill="#fcc00e"/>
<rect x="1658" y="464.2" width="42.2" height="3.6" fill="#fcc20e"/>
<rect x="1658" y="467.2" width="42.2" height="3.6" fill="#fdc40d"/>
<rect x="1658" y="470.2" width="42.2" height="3.6" fill="#fdc60c"/>
<rect x="1658" y="473.2" width="42.2" height="3.6" fill="#fdc70c"/>
<rect x="1658" y="476.2" width="42.2" height="3.6" fill="#fdc90d"/>
<rect x="1658" y="479.2" width="42.2" height="3.6" fill="#fdca0d"/>
<rect x="1658" y="482.2" width="42.2" height="3.6" fill="#fccb0e"/>
<rect x="1658" y="485.2" width="42.2" height="3.6" fill="#fccd0f"/>
<rect x="1658" y="488.2" width="42.2" height="3.6" fill="#fcce0f"/>
<rect x="1658" y="491.2" width="42.2" height="3.6" fill="#fccf10"/>
<rect x="1658" y="494.2" width="42.2" height="3.6" fill="#fbd110"/>
<rect x="1658" y="497.2" width="42.2" height="3.6" fill="#fbd211"/>
<rect x="1658" y="500.2" width="42.2" height="3.6" fill="#fbd411"/>
<rect x="1658" y="503.2" width="42.2" height="3.6" fill="#fbd512"/>
<rect x="1658" y="506.2" width="42.2" height="3.6" fill="#fbd613"/>
<rect x="1658" y="509.2" width="42.2" height="3.6" fill="#fad813"/>
<rect x="1658" y="512.2" width="42.2" height="3.6" fill="#fad914"/>
<rect x="1658" y="515.2" width="42.2" height="3.6" fill="#fada14"/>
<rect x="1658" y="518.2" width="42.2" height="3.6" fill="#fadc15"/>
<rect x="1658" y="521.2" width="42.2" height="3.6" fill="#f9dd16"/>
<rect x="1658" y="524.2" width="42.2" height="3.6" fill="#f9de16"/>
<rect x="1658" y="527.2" width="42.2" height="3.6" fill="#f9e017"/>
<rect x="1658" y="530.2" width="42.2" height="3.6" fill="#f9e117"/>
<rect x="1658" y="533.2" width="42.2" height="3.6" fill="#f9e218"/>
<rect x="1658" y="536.2" width="42.2" height="3.6" fill="#f8e418"/>
<rect x="1658" y="539.2" width="42.2" height="3.6" fill="#f8e519"/>
<rect x="1658" y="542.2" width="42.2" height="3.6" fill="#f8e71a"/>
<rect x="1658" y="545.2" width="42.2" height="3.6" fill="#f8e81a"/>
<rect x="1658" y="548.2" width="42.2" height="3.6" fill="#f7e91b"/>
<rect x="1658" y="551.2" width="42.2" height="3.6" fill="#f7eb1b"/>
<rect x="1658" y="554.2" width="42.2" height="3.6" fill="#f7ec1c"/>
<rect x="1658" y="557.2" width="42.2" height="3.6" fill="#f4eb1e"/>
<rect x="1658" y="560.2" width="42.2" height="3.6" fill="#f0ea1f"/>
<rect x="1658" y="563.2" width="42.2" height="3.6" fill="#ede821"/>
<rect x="1658" y="566.2" width="42.2" height="3.6" fill="#eae723"/>
<rect x="1658" y="569.2" width="42.2" height="3.6" fill="#e6e625"/>
<rect x="1658" y="572.2" width="42.2" height="3.6" fill="#e3e526"/>
<rect x="1658" y="575.2" width="42.2" height="3.6" fill="#e0e328"/>
<rect x="1658" y="578.2" width="42.2" height="3.6" fill="#dce22a"/>
<rect x="1658" y="581.2" width="42.2" height="3.6" fill="#d9e12c"/>
<rect x="1658" y="584.2" width="42.2" height="3.6" fill="#d6e02d"/>
<rect x="1658" y="587.2" width="42.2" height="3.6" fill="#d2df2f"/>
<rect x="1658" y="590.2" width="42.2" height="3.6" fill="#cfdd31"/>
<rect x="1658" y="593.2" width="42.2" height="3.6" fill="#ccdc32"/>
<rect x="1658" y="596.2" width="42.2" height="3.6" fill="#c8db34"/>
<rect x="1658" y="599.2" width="42.2" height="3.6" fill="#c5da36"/>
<rect x="1658" y="602.2" width="42.2" height="3.6" fill="#c2d838"/>
<rect x="1658" y="605.2" width="42.2" height="3.6" fill="#bed739"/>
<rect x="1658" y="608.2" width="42.2" height="3.6" fill="#bbd63b"/>
<rect x="1658" y="611.2" width="42.2" height="3.6" fill="#b8d53d"/>
<rect x="1658" y="614.2" width="42.2" height="3.6" fill="#b4d43f"/>
<rect x="1658" y="617.2" width="42.2" height="3.6" fill="#b1d240"/>
<rect x="1658" y="620.2" width="42.2" height="3.6" fill="#aed142"/>
<rect x="1658" y="623.2" width="42.2" height="3.6" fill="#aad044"/>
<rect x="1658" y="626.2" width="42.2" height="3.6" fill="#a8cf46"/>
<rect x="1658" y="629.2" width="42.2" height="3.6" fill="#a7cf48"/>
<rect x="1658" y="632.2" width="42.2" height="3.6" fill="#a5ce4b"/>
<rect x="1658" y="635.2" width="42.2" height="3.6" fill="#a4ce4d"/>
<rect x="1658" y="638.2" width="42.2" height="3.6" fill="#a3ce50"/>
<rect x="1658" y="641.2" width="42.2" height="3.6" fill="#a2ce52"/>
<rect x="1658" y="644.2" width="42.2" height="3.6" fill="#a1cd55"/>
<rect x="1658" y="647.2" width="42.2" height="3.6" fill="#a0cd57"/>
<rect x="1658" y="650.2" width="42.2" height="3.6" fill="#9fcd5a"/>
<rect x="1658" y="653.2" width="42.2" height="3.6" fill="#9dcc5c"/>
<rect x="1658" y="656.2" width="42.2" height="3.6" fill="#9ccc5f"/>
<rect x="1658" y="659.2" width="42.2" height="3.6" fill="#9bcc61"/>
<rect x="1658" y="662.2" width="42.2" height="3.6" fill="#9acc64"/>
<rect x="1658" y="665.2" width="42.2" height="3.6" fill="#99cb66"/>
<rect x="1658" y="668.2" width="42.2" height="3.6" fill="#98cb69"/>
<rect x="1658" y="671.2" width="42.2" height="3.6" fill="#96cb6c"/>
<rect x="1658" y="674.2" width="42.2" height="3.6" fill="#95cb6e"/>
<rect x="1658" y="677.2" width="42.2" height="3.6" fill="#94ca71"/>
<rect x="1658" y="680.2" width="42.2" height="3.6" fill="#93ca73"/>
<rect x="1658" y="683.2" width="42.2" height="3.6" fill="#92ca76"/>
<rect x="1658" y="686.2" width="42.2" height="3.6" fill="#91c978"/>
<rect x="1658" y="689.2" width="42.2" height="3.6" fill="#90c97b"/>
<rect x="1658" y="692.2" width="42.2" height="3.6" fill="#8ec97d"/>
<rect x="1658" y="695.2" width="42.2" height="3.6" fill="#8dc980"/>
<rect x="1658" y="698.2" width="42.2" height="3.6" fill="#8cc984"/>
<rect x="1658" y="701.2" width="42.2" height="3.6" fill="#8bc987"/>
<rect x="1658" y="704.2" width="42.2" height="3.6" fill="#89c98a"/>
<rect x="1658" y="707.2" width="42.2" height="3.6" fill="#88c98d"/>
<rect x="1658" y="710.2" width="42.2" height="3.6" fill="#87c990"/>
<rect x="1658" y="713.2" width="42.2" height="3.6" fill="#86c993"/>
<rect x="1658" y="716.2" width="42.2" height="3.6" fill="#84c996"/>
<rect x="1658" y="719.2" width="42.2" height="3.6" fill="#83c999"/>
<rect x="1658" y="722.2" width="42.2" height="3.6" fill="#82c99c"/>
<rect x="1658" y="725.2" width="42.2" height="3.6" fill="#80c99f"/>
<rect x="1658" y="728.2" width="42.2" height="3.6" fill="#7fc9a2"/>
<rect x="1658" y="731.2" width="42.2" height="3.6" fill="#7ec9a6"/>
<rect x="1658" y="734.2" width="42.2" height="3.6" fill="#7dc9a9"/>
<rect x="1658" y="737.2" width="42.2" height="3.6" fill="#7bc8ac"/>
<rect x="1658" y="740.2" width="42.2" height="3.6" fill="#7ac8af"/>
<rect x="1658" y="743.2" width="42.2" height="3.6" fill="#79c8b2"/>
<rect x="1658" y="746.2" width="42.2" height="3.6" fill="#78c8b5"/>
<rect x="1658" y="749.2" width="42.2" height="3.6" fill="#76c8b8"/>
<rect x="1658" y="752.2" width="42.2" height="3.6" fill="#75c8bb"/>
<rect x="1658" y="755.2" width="42.2" height="3.6" fill="#74c8be"/>
<rect x="1658" y="758.2" width="42.2" height="3.6" fill="#72c8c1"/>
<rect x="1658" y="761.2" width="42.2" height="3.6" fill="#71c8c4"/>
<rect x="1658" y="764.2" width="42.2" height="3.6" fill="#70c8c8"/>
<rect x="1658" y="767.2" width="42.2" height="3.6" fill="#6fc8cb"/>
<rect x="1658" y="770.2" width="42.2" height="3.6" fill="#6dc8ce"/>
<rect x="1658" y="773.2" width="42.2" height="3.6" fill="#6cc8d1"/>
<rect x="1658" y="776.2" width="42.2" height="3.6" fill="#6bc8d4"/>
<rect x="1658" y="779.2" width="42.2" height="3.6" fill="#69c8d6"/>
<rect x="1658" y="782.2" width="42.2" height="3.6" fill="#66c8d8"/>
<rect x="1658" y="785.2" width="42.2" height="3.6" fill="#63c7d9"/>
<rect x="1658" y="788.2" width="42.2" height="3.6" fill="#61c7da"/>
<rect x="1658" y="791.2" width="42.2" height="3.6" fill="#5ec7dc"/>
<rect x="1658" y="794.2" width="42.2" height="3.6" fill="#5bc7dd"/>
<rect x="1658" y="797.2" width="42.2" height="3.6" fill="#58c7de"/>
<rect x="1658" y="800.2" width="42.2" height="3.6" fill="#55c6e0"/>
<rect x="1658" y="803.2" width="42.2" height="3.6" fill="#52c6e1"/>
<rect x="1658" y="806.2" width="42.2" height="3.6" fill="#50c6e2"/>
<rect x="1658" y="809.2" width="42.2" height="3.6" fill="#4dc6e4"/>
<rect x="1658" y="812.2" width="42.2" height="3.6" fill="#4ac5e5"/>
<rect x="1658" y="815.2" width="42.2" height="3.6" fill="#47c5e6"/>
<rect x="1658" y="818.2" width="42.2" height="3.6" fill="#44c5e8"/>
<rect x="1658" y="821.2" width="42.2" height="3.6" fill="#41c5e9"/>
<rect x="1658" y="824.2" width="42.2" height="3.6" fill="#3fc4ea"/>
<rect x="1658" y="827.2" width="42.2" height="3.6" fill="#3cc4ec"/>
<rect x="1658" y="830.2" width="42.2" height="3.6" fill="#39c4ed"/>
<rect x="1658" y="833.2" width="42.2" height="3.6" fill="#36c4ee"/>
<rect x="1658" y="836.2" width="42.2" height="3.6" fill="#33c4f0"/>
<rect x="1658" y="839.2" width="42.2" height="3.6" fill="#30c3f1"/>
<rect x="1658" y="842.2" width="42.2" height="3.6" fill="#2dc3f2"/>
<rect x="1658" y="845.2" width="42.2" height="3.6" fill="#2cc2f2"/>
<rect x="1658" y="848.2" width="42.2" height="3.6" fill="#2cc0f1"/>
<rect x="1658" y="851.2" width="42.2" height="3.6" fill="#2cbef0"/>
<rect x="1658" y="854.2" width="42.2" height="3.6" fill="#2cbdee"/>
<rect x="1658" y="857.2" width="42.2" height="3.6" fill="#2cbbed"/>
<rect x="1658" y="860.2" width="42.2" height="3.6" fill="#2bb9ec"/>
<rect x="1658" y="863.2" width="42.2" height="3.6" fill="#2bb7ea"/>
<rect x="1658" y="866.2" width="42.2" height="3.6" fill="#2bb5e9"/>
<rect x="1658" y="869.2" width="42.2" height="3.6" fill="#2bb3e8"/>
<rect x="1658" y="872.2" width="42.2" height="3.6" fill="#2bb2e6"/>
<rect x="1658" y="875.2" width="42.2" height="3.6" fill="#2bb0e5"/>
<rect x="1658" y="878.2" width="42.2" height="3.6" fill="#2baee4"/>
<rect x="1658" y="881.2" width="42.2" height="3.6" fill="#2bace2"/>
<rect x="1658" y="884.2" width="42.2" height="3.6" fill="#2baae1"/>
<rect x="1658" y="887.2" width="42.2" height="3.6" fill="#2ba8e0"/>
<rect x="1658" y="890.2" width="42.2" height="3.6" fill="#2ba7de"/>
<rect x="1658" y="893.2" width="42.2" height="3.6" fill="#2aa5dd"/>
<rect x="1658" y="896.2" width="42.2" height="3.6" fill="#2aa3dc"/>
<rect x="1658" y="899.2" width="42.2" height="3.6" fill="#2aa1da"/>
<rect x="1658" y="902.2" width="42.2" height="3.6" fill="#2a9fd9"/>
<rect x="1658" y="905.2" width="42.2" height="3.6" fill="#2a9ed8"/>
<rect x="1658" y="908.2" width="42.2" height="3.6" fill="#2a9cd6"/>
<rect x="1658" y="911.2" width="42.2" height="3.6" fill="#2a9ad5"/>
<rect x="1658" y="914.2" width="42.2" height="3.6" fill="#2b99d4"/>
<rect x="1658" y="917.2" width="42.2" height="3.6" fill="#2c98d4"/>
<rect x="1658" y="920.2" width="42.2" height="3.6" fill="#2c96d3"/>
<rect x="1658" y="923.2" width="42.2" height="3.6" fill="#2d95d2"/>
<rect x="1658" y="926.2" width="42.2" height="3.6" fill="#2d94d1"/>
<rect x="1658" y="929.2" width="42.2" height="3.6" fill="#2e92d0"/>
<rect x="1658" y="932.2" width="42.2" height="3.6" fill="#2f91cf"/>
<rect x="1658" y="935.2" width="42.2" height="3.6" fill="#2f90ce"/>
<rect x="1658" y="938.2" width="42.2" height="3.6" fill="#308fcd"/>
<rect x="1658" y="941.2" width="42.2" height="3.6" fill="#308dcc"/>
<rect x="1658" y="944.2" width="42.2" height="3.6" fill="#318ccb"/>
<rect x="1658" y="947.2" width="42.2" height="3.6" fill="#328bca"/>
<rect x="1658" y="950.2" width="42.2" height="3.6" fill="#3289c9"/>
<rect x="1658" y="953.2" width="42.2" height="3.6" fill="#3388c8"/>
<rect x="1658" y="956.2" width="42.2" height="3.6" fill="#3387c7"/>
<rect x="1658" y="959.2" width="42.2" height="3.6" fill="#3486c6"/>
<rect x="1658" y="962.2" width="42.2" height="3.6" fill="#3584c6"/>
<rect x="1658" y="965.2" width="42.2" height="3.6" fill="#3583c5"/>
<rect x="1658" y="968.2" width="42.2" height="3.6" fill="#3682c4"/>
<rect x="1658" y="971.2" width="42.2" height="3.6" fill="#3680c3"/>
<rect x="1658" y="974.2" width="42.2" height="3.6" fill="#377fc2"/>
<rect x="1658" y="977.2" width="42.2" height="3.6" fill="#387ec1"/>
<rect x="1658" y="980.2" width="42.2" height="3.6" fill="#387cc0"/>
<rect x="1658" y="983.2" width="42.2" height="3.6" fill="#397bbf"/>
<rect x="1658" y="986.2" width="42.2" height="3.6" fill="#397abe"/>
<rect x="1658" y="989.2" width="42.2" height="3.6" fill="#3a79bd"/>
<rect x="1658" y="992.2" width="42.2" height="3.6" fill="#3b77bc"/>
<rect x="1658" y="995.2" width="42.2" height="3.6" fill="#3b76bb"/>
<rect x="1658" y="998.2" width="42.2" height="3.6" fill="#3c75ba"/>
<rect x="1658" y="1001.2" width="42.2" height="3.6" fill="#3d73b9"/>
<rect x="1658" y="1004.2" width="42.2" height="3.6" fill="#3d72b8"/>
<rect x="1658" y="1007.2" width="42.2" height="3.6" fill="#3e71b8"/>
<rect x="1658" y="1010.2" width="42.2" height="3.6" fill="#3e70b7"/>
<rect x="1658" y="1013.2" width="42.2" height="3.6" fill="#3f6eb6"/>
<rect x="1658" y="1016.2" width="42.2" height="3.6" fill="#406db5"/>
<rect x="1658" y="1019.2" width="42.2" height="3.6" fill="#406cb4"/>
<rect x="1658" y="1022.2" width="42.2" height="3.6" fill="#406bb3"/>
<rect x="1658" y="1025.2" width="42.2" height="3.6" fill="#406ab3"/>
<rect x="1658" y="1028.2" width="42.2" height="3.6" fill="#3f69b2"/>
<rect x="1658" y="1031.2" width="42.2" height="3.6" fill="#3f69b2"/>
<rect x="1658" y="1034.2" width="42.2" height="3.6" fill="#3f68b1"/>
<rect x="1658" y="1037.2" width="42.2" height="3.6" fill="#3f67b1"/>
<rect x="1658" y="1040.2" width="42.2" height="3.6" fill="#3f66b0"/>
<rect x="1658" y="1043.2" width="42.2" height="3.6" fill="#3e65b0"/>
<rect x="1658" y="1046.2" width="42.2" height="3.6" fill="#3e65af"/>
<rect x="1658" y="1049.2" width="42.2" height="3.6" fill="#3e64af"/>
<rect x="1658" y="1052.2" width="42.2" height="3.6" fill="#3e63ae"/>
<rect x="1658" y="1055.2" width="42.2" height="3.6" fill="#3e62ae"/>
<rect x="1658" y="1058.2" width="42.2" height="3.6" fill="#3d61ad"/>
<rect x="1658" y="1061.2" width="42.2" height="3.6" fill="#3d61ad"/>
<rect x="1658" y="1064.2" width="42.2" height="3.6" fill="#3d60ac"/>
<rect x="1658" y="1067.2" width="42.2" height="3.6" fill="#3d5fac"/>
<rect x="1658" y="1070.2" width="42.2" height="3.6" fill="#3d5eab"/>
<rect x="1658" y="1073.2" width="42.2" height="3.6" fill="#3c5dab"/>
<rect x="1658" y="1076.2" width="42.2" height="3.6" fill="#3c5daa"/>
<rect x="1658" y="1079.2" width="42.2" height="3.6" fill="#3c5caa"/>
<rect x="1658" y="1082.2" width="42.2" height="3.6" fill="#3c5baa"/>
<rect x="1658" y="1085.2" width="42.2" height="3.6" fill="#3c5aa9"/>
<rect x="1658" y="1088.2" width="42.2" height="3.6" fill="#3c5aa9"/>
<rect x="1658" y="1091.2" width="42.2" height="3.6" fill="#3b59a8"/>
<rect x="1658" y="1094.2" width="42.2" height="3.6" fill="#3b58a8"/>
<rect x="1658" y="1097.2" width="42.2" height="3.6" fill="#3b57a7"/>
<rect x="1658" y="1100.2" width="42.2" height="3.6" fill="#3b56a7"/>
<rect x="1658" y="1103.2" width="42.2" height="3.6" fill="#3b56a6"/>
<rect x="1658" y="1106.2" width="42.2" height="3.6" fill="#3a55a6"/>
<rect x="1658" y="1109.2" width="42.2" height="3.6" fill="#3a54a5"/>
<rect x="1658" y="1112.2" width="42.2" height="3.6" fill="#3a53a5"/>
<rect x="1658" y="1115.2" width="42.2" height="3.6" fill="#3a52a4"/>
<rect x="1658" y="1118.2" width="42.2" height="3.6" fill="#3a52a4"/>
<rect x="1658" y="1121.2" width="42.2" height="3.6" fill="#3951a3"/>
<rect x="1658" y="1124.2" width="42.2" height="3.6" fill="#3950a3"/>
<rect x="1658" y="1127.2" width="42.2" height="3.6" fill="#394fa2"/>
<rect x="1658" y="1130.2" width="42.2" height="3.6" fill="#394ea2"/>
<rect x="1658" y="1133.2" width="42.2" height="3.6" fill="#384ea1"/>
<rect x="1658" y="1136.2" width="42.2" height="3.6" fill="#384da1"/>
<rect x="1658" y="1139.2" width="42.2" height="3.6" fill="#384ca0"/>
<rect x="1658" y="1142.2" width="42.2" height="3.6" fill="#384ba0"/>
<rect x="1658" y="1145.2" width="42.2" height="3.6" fill="#374a9f"/>
<rect x="1658" y="1148.2" width="42.2" height="3.6" fill="#37499f"/>
<rect x="1658" y="1151.2" width="42.2" height="3.6" fill="#37499f"/>
<rect x="1658" y="1154.2" width="42.2" height="3.6" fill="#36489e"/>
<rect x="1658" y="1157.2" width="42.2" height="3.6" fill="#36479e"/>
<rect x="1658" y="1160.2" width="42.2" height="3.6" fill="#36469d"/>
<rect x="1658" y="1163.2" width="42.2" height="3.6" fill="#35459d"/>
<rect x="1658" y="1166.2" width="42.2" height="3.6" fill="#35449c"/>
<rect x="1658" y="1169.2" width="42.2" height="3.6" fill="#35449c"/>
<rect x="1658" y="1172.2" width="42.2" height="3.6" fill="#35439b"/>
<rect x="1658" y="1175.2" width="42.2" height="3.6" fill="#34429b"/>
<rect x="1658" y="1178.2" width="42.2" height="3.6" fill="#34419b"/>
<rect x="1658" y="1181.2" width="42.2" height="3.6" fill="#34409a"/>
<rect x="1658" y="1184.2" width="42.2" height="3.6" fill="#33409a"/>
<rect x="1658" y="1187.2" width="42.2" height="3.6" fill="#333f99"/>
<rect x="1658" y="1190.2" width="42.2" height="3.6" fill="#333e99"/>
<rect x="1658" y="1193.2" width="42.2" height="3.6" fill="#323d98"/>
<rect x="1658" y="1196.2" width="42.2" height="3.6" fill="#323c98"/>
<rect x="1658" y="1199.2" width="42.2" height="3.6" fill="#323b98"/>
<rect x="1658" y="1202.2" width="42.2" height="3.6" fill="#323b97"/>
<rect x="1658" y="1205.2" width="42.2" height="3.6" fill="#313a97"/>
<rect x="1658" y="1208.2" width="42.2" height="3.6" fill="#313996"/>
<rect x="1658" y="1211.2" width="42.2" height="3.6" fill="#313896"/>
<rect x="1658" y="1214.2" width="42.2" height="3.6" fill="#303795"/>
<rect x="1658" y="1217.2" width="42.2" height="3.6" fill="#303695"/>
<rect x="1658" y="1220.2" width="42.2" height="3.6" fill="#303694"/>
<rect x="1658" y="1223.2" width="42.2" height="3.6" fill="#2f3594"/>
<rect x="1658" y="1226.2" width="42.2" height="3.6" fill="#2f3494"/>
<rect x="1658" y="1229.2" width="42.2" height="3.6" fill="#2f3393"/>
<rect x="1658" y="1232.2" width="42.2" height="3.6" fill="#2e3293"/>
<rect x="1658" y="1235.2" width="42.2" height="3.6" fill="#2e3192"/>
<rect x="1658" y="1238.2" width="42.2" height="0.3" fill="#2e3192"/>
</g>
<text x="1704.3" y="152.2" font-size="28">0.88</text>
<path d="M1700.2 255.4h-9" stroke="#444" stroke-opacity=".55" stroke-width="1" fill="none"/>
<text x="1704.3" y="261.4" font-size="28">0.872</text>
<path d="M1700.2 364.7h-9" stroke="#444" stroke-opacity=".55" stroke-width="1" fill="none"/>
<text x="1704.3" y="370.7" font-size="28">0.864</text>
<path d="M1700.2 473.9h-9" stroke="#444" stroke-opacity=".55" stroke-width="1" fill="none"/>
<text x="1704.3" y="479.9" font-size="28">0.856</text>
<path d="M1700.2 583.1h-9" stroke="#444" stroke-opacity=".55" stroke-width="1" fill="none"/>
<text x="1704.3" y="589.1" font-size="28">0.848</text>
<path d="M1700.2 692.3h-9" stroke="#444" stroke-opacity=".55" stroke-width="1" fill="none"/>
<text x="1704.3" y="698.3" font-size="28">0.84</text>
<path d="M1700.2 801.6h-9" stroke="#444" stroke-opacity=".55" stroke-width="1" fill="none"/>
<text x="1704.3" y="807.6" font-size="28">0.832</text>
<path d="M1700.2 910.8h-9" stroke="#444" stroke-opacity=".55" stroke-width="1" fill="none"/>
<text x="1704.3" y="916.8" font-size="28">0.824</text>
<path d="M1700.2 1020h-9" stroke="#444" stroke-opacity=".55" stroke-width="1" fill="none"/>
<text x="1704.3" y="1026" font-size="28">0.816</text>
<path d="M1700.2 1129.3h-9" stroke="#444" stroke-opacity=".55" stroke-width="1" fill="none"/>
<text x="1704.3" y="1135.3" font-size="28">0.808</text>
<text x="1704.3" y="1244.5" font-size="28">0.8</text>
<g id="cbB" shape-rendering="crispEdges">
<rect x="1390.8" y="1430.4" width="38.2" height="3.6" fill="#7f171a"/>
<rect x="1390.8" y="1433.4" width="38.2" height="3.6" fill="#82181b"/>
<rect x="1390.8" y="1436.4" width="38.2" height="3.6" fill="#86181c"/>
<rect x="1390.8" y="1439.4" width="38.2" height="3.6" fill="#8a191c"/>
<rect x="1390.8" y="1442.4" width="38.2" height="3.6" fill="#8d191d"/>
<rect x="1390.8" y="1445.4" width="38.2" height="3.6" fill="#911a1e"/>
<rect x="1390.8" y="1448.4" width="38.2" height="3.6" fill="#951a1e"/>
<rect x="1390.8" y="1451.4" width="38.2" height="3.6" fill="#981b1f"/>
<rect x="1390.8" y="1454.4" width="38.2" height="3.6" fill="#9c1b20"/>
<rect x="1390.8" y="1457.4" width="38.2" height="3.6" fill="#a01c20"/>
<rect x="1390.8" y="1460.4" width="38.2" height="3.6" fill="#a31c21"/>
<rect x="1390.8" y="1463.4" width="38.2" height="3.6" fill="#a71d21"/>
<rect x="1390.8" y="1466.4" width="38.2" height="3.6" fill="#aa1d22"/>
<rect x="1390.8" y="1469.4" width="38.2" height="3.6" fill="#ae1e23"/>
<rect x="1390.8" y="1472.4" width="38.2" height="3.6" fill="#b21f23"/>
<rect x="1390.8" y="1475.4" width="38.2" height="3.6" fill="#b51f24"/>
<rect x="1390.8" y="1478.4" width="38.2" height="3.6" fill="#b91f24"/>
<rect x="1390.8" y="1481.4" width="38.2" height="3.6" fill="#bc1f24"/>
<rect x="1390.8" y="1484.4" width="38.2" height="3.6" fill="#bf1e24"/>
<rect x="1390.8" y="1487.4" width="38.2" height="3.6" fill="#c31e24"/>
<rect x="1390.8" y="1490.4" width="38.2" height="3.6" fill="#c61e24"/>
<rect x="1390.8" y="1493.4" width="38.2" height="3.6" fill="#c91e24"/>
<rect x="1390.8" y="1496.4" width="38.2" height="3.6" fill="#cd1e24"/>
<rect x="1390.8" y="1499.4" width="38.2" height="3.6" fill="#d01e24"/>
<rect x="1390.8" y="1502.4" width="38.2" height="3.6" fill="#d41d24"/>
<rect x="1390.8" y="1505.4" width="38.2" height="3.6" fill="#d71d24"/>
<rect x="1390.8" y="1508.4" width="38.2" height="3.6" fill="#da1d24"/>
<rect x="1390.8" y="1511.4" width="38.2" height="3.6" fill="#de1d24"/>
<rect x="1390.8" y="1514.4" width="38.2" height="3.6" fill="#e11d24"/>
<rect x="1390.8" y="1517.4" width="38.2" height="3.6" fill="#e41c24"/>
<rect x="1390.8" y="1520.4" width="38.2" height="3.6" fill="#e81c24"/>
<rect x="1390.8" y="1523.4" width="38.2" height="3.6" fill="#eb1c24"/>
<rect x="1390.8" y="1526.4" width="38.2" height="3.6" fill="#ed1e24"/>
<rect x="1390.8" y="1529.4" width="38.2" height="3.6" fill="#ed2424"/>
<rect x="1390.8" y="1532.4" width="38.2" height="3.6" fill="#ee2925"/>
<rect x="1390.8" y="1535.4" width="38.2" height="3.6" fill="#ee2e25"/>
<rect x="1390.8" y="1538.4" width="38.2" height="3.6" fill="#ee3426"/>
<rect x="1390.8" y="1541.4" width="38.2" height="3.6" fill="#ee3926"/>
<rect x="1390.8" y="1544.4" width="38.2" height="3.6" fill="#ef3e26"/>
<rect x="1390.8" y="1547.4" width="38.2" height="3.6" fill="#ef4427"/>
<rect x="1390.8" y="1550.4" width="38.2" height="3.6" fill="#ef4927"/>
<rect x="1390.8" y="1553.4" width="38.2" height="3.6" fill="#ef4e27"/>
<rect x="1390.8" y="1556.4" width="38.2" height="3.6" fill="#f05428"/>
<rect x="1390.8" y="1559.4" width="38.2" height="3.6" fill="#f05928"/>
<rect x="1390.8" y="1562.4" width="38.2" height="3.6" fill="#f05d27"/>
<rect x="1390.8" y="1565.4" width="38.2" height="3.6" fill="#f16127"/>
<rect x="1390.8" y="1568.4" width="38.2" height="3.6" fill="#f16526"/>
<rect x="1390.8" y="1571.4" width="38.2" height="3.6" fill="#f26825"/>
<rect x="1390.8" y="1574.4" width="38.2" height="3.6" fill="#f26c25"/>
<rect x="1390.8" y="1577.4" width="38.2" height="3.6" fill="#f37024"/>
<rect x="1390.8" y="1580.4" width="38.2" height="3.6" fill="#f37423"/>
<rect x="1390.8" y="1583.4" width="38.2" height="3.6" fill="#f47822"/>
<rect x="1390.8" y="1586.4" width="38.2" height="3.6" fill="#f47b22"/>
<rect x="1390.8" y="1589.4" width="38.2" height="3.6" fill="#f47f21"/>
<rect x="1390.8" y="1592.4" width="38.2" height="3.6" fill="#f58320"/>
<rect x="1390.8" y="1595.4" width="38.2" height="3.6" fill="#f58720"/>
<rect x="1390.8" y="1598.4" width="38.2" height="3.6" fill="#f68a1f"/>
<rect x="1390.8" y="1601.4" width="38.2" height="3.6" fill="#f68e1e"/>
<rect x="1390.8" y="1604.4" width="38.2" height="3.6" fill="#f7921d"/>
<rect x="1390.8" y="1607.4" width="38.2" height="3.6" fill="#f7951d"/>
<rect x="1390.8" y="1610.4" width="38.2" height="3.6" fill="#f7981c"/>
<rect x="1390.8" y="1613.4" width="38.2" height="3.6" fill="#f89b1b"/>
<rect x="1390.8" y="1616.4" width="38.2" height="3.6" fill="#f89e1a"/>
<rect x="1390.8" y="1619.4" width="38.2" height="3.6" fill="#f8a119"/>
<rect x="1390.8" y="1622.4" width="38.2" height="3.6" fill="#f9a318"/>
<rect x="1390.8" y="1625.4" width="38.2" height="3.6" fill="#f9a617"/>
<rect x="1390.8" y="1628.4" width="38.2" height="3.6" fill="#f9a916"/>
<rect x="1390.8" y="1631.4" width="38.2" height="3.6" fill="#faac15"/>
<rect x="1390.8" y="1634.4" width="38.2" height="3.6" fill="#faaf14"/>
<rect x="1390.8" y="1637.4" width="38.2" height="3.6" fill="#fab213"/>
<rect x="1390.8" y="1640.4" width="38.2" height="3.6" fill="#fbb412"/>
<rect x="1390.8" y="1643.4" width="38.2" height="3.6" fill="#fbb711"/>
<rect x="1390.8" y="1646.4" width="38.2" height="3.6" fill="#fbba10"/>
<rect x="1390.8" y="1649.4" width="38.2" height="3.6" fill="#fcbd0f"/>
<rect x="1390.8" y="1652.4" width="38.2" height="3.6" fill="#fcc00e"/>
<rect x="1390.8" y="1655.4" width="38.2" height="3.6" fill="#fcc30d"/>
<rect x="1390.8" y="1658.4" width="38.2" height="3.6" fill="#fdc50d"/>
<rect x="1390.8" y="1661.4" width="38.2" height="3.6" fill="#fdc80c"/>
<rect x="1390.8" y="1664.4" width="38.2" height="3.6" fill="#fdca0d"/>
<rect x="1390.8" y="1667.4" width="38.2" height="3.6" fill="#fccc0e"/>
<rect x="1390.8" y="1670.4" width="38.2" height="3.6" fill="#fcce0f"/>
<rect x="1390.8" y="1673.4" width="38.2" height="3.6" fill="#fcd010"/>
<rect x="1390.8" y="1676.4" width="38.2" height="3.6" fill="#fbd111"/>
<rect x="1390.8" y="1679.4" width="38.2" height="3.6" fill="#fbd311"/>
<rect x="1390.8" y="1682.4" width="38.2" height="3.6" fill="#fbd512"/>
<rect x="1390.8" y="1685.4" width="38.2" height="3.6" fill="#fad713"/>
<rect x="1390.8" y="1688.4" width="38.2" height="3.6" fill="#fad914"/>
<rect x="1390.8" y="1691.4" width="38.2" height="3.6" fill="#fadb15"/>
<rect x="1390.8" y="1694.4" width="38.2" height="3.6" fill="#f9dd16"/>
<rect x="1390.8" y="1697.4" width="38.2" height="3.6" fill="#f9df16"/>
<rect x="1390.8" y="1700.4" width="38.2" height="3.6" fill="#f9e117"/>
<rect x="1390.8" y="1703.4" width="38.2" height="3.6" fill="#f8e318"/>
<rect x="1390.8" y="1706.4" width="38.2" height="3.6" fill="#f8e519"/>
<rect x="1390.8" y="1709.4" width="38.2" height="3.6" fill="#f8e71a"/>
<rect x="1390.8" y="1712.4" width="38.2" height="3.6" fill="#f8e91b"/>
<rect x="1390.8" y="1715.4" width="38.2" height="3.6" fill="#f7ea1b"/>
<rect x="1390.8" y="1718.4" width="38.2" height="3.6" fill="#f6ec1c"/>
<rect x="1390.8" y="1721.4" width="38.2" height="3.6" fill="#f1ea1f"/>
<rect x="1390.8" y="1724.4" width="38.2" height="3.6" fill="#ede821"/>
<rect x="1390.8" y="1727.4" width="38.2" height="3.6" fill="#e8e624"/>
<rect x="1390.8" y="1730.4" width="38.2" height="3.6" fill="#e3e526"/>
<rect x="1390.8" y="1733.4" width="38.2" height="3.6" fill="#dee329"/>
<rect x="1390.8" y="1736.4" width="38.2" height="3.6" fill="#dae12b"/>
<rect x="1390.8" y="1739.4" width="38.2" height="3.6" fill="#d5df2e"/>
<rect x="1390.8" y="1742.4" width="38.2" height="3.6" fill="#d0de30"/>
<rect x="1390.8" y="1745.4" width="38.2" height="3.6" fill="#cbdc33"/>
<rect x="1390.8" y="1748.4" width="38.2" height="3.6" fill="#c7da35"/>
<rect x="1390.8" y="1751.4" width="38.2" height="3.6" fill="#c2d938"/>
<rect x="1390.8" y="1754.4" width="38.2" height="3.6" fill="#bdd73a"/>
<rect x="1390.8" y="1757.4" width="38.2" height="3.6" fill="#b9d53c"/>
<rect x="1390.8" y="1760.4" width="38.2" height="3.6" fill="#b4d33f"/>
<rect x="1390.8" y="1763.4" width="38.2" height="3.6" fill="#afd241"/>
<rect x="1390.8" y="1766.4" width="38.2" height="3.6" fill="#aad044"/>
<rect x="1390.8" y="1769.4" width="38.2" height="3.6" fill="#a7cf47"/>
<rect x="1390.8" y="1772.4" width="38.2" height="3.6" fill="#a6ce4a"/>
<rect x="1390.8" y="1775.4" width="38.2" height="3.6" fill="#a4ce4e"/>
<rect x="1390.8" y="1778.4" width="38.2" height="3.6" fill="#a2ce52"/>
<rect x="1390.8" y="1781.4" width="38.2" height="3.6" fill="#a1cd55"/>
<rect x="1390.8" y="1784.4" width="38.2" height="3.6" fill="#9fcd59"/>
<rect x="1390.8" y="1787.4" width="38.2" height="3.6" fill="#9dcc5c"/>
<rect x="1390.8" y="1790.4" width="38.2" height="3.6" fill="#9ccc60"/>
<rect x="1390.8" y="1793.4" width="38.2" height="3.6" fill="#9acc63"/>
<rect x="1390.8" y="1796.4" width="38.2" height="3.6" fill="#99cb67"/>
<rect x="1390.8" y="1799.4" width="38.2" height="3.6" fill="#97cb6b"/>
<rect x="1390.8" y="1802.4" width="38.2" height="3.6" fill="#95cb6e"/>
<rect x="1390.8" y="1805.4" width="38.2" height="3.6" fill="#94ca72"/>
<rect x="1390.8" y="1808.4" width="38.2" height="3.6" fill="#92ca75"/>
<rect x="1390.8" y="1811.4" width="38.2" height="3.6" fill="#90c979"/>
<rect x="1390.8" y="1814.4" width="38.2" height="3.6" fill="#8fc97c"/>
<rect x="1390.8" y="1817.4" width="38.2" height="3.6" fill="#8dc981"/>
<rect x="1390.8" y="1820.4" width="38.2" height="3.6" fill="#8bc985"/>
<rect x="1390.8" y="1823.4" width="38.2" height="3.6" fill="#89c98a"/>
<rect x="1390.8" y="1826.4" width="38.2" height="3.6" fill="#88c98e"/>
<rect x="1390.8" y="1829.4" width="38.2" height="3.6" fill="#86c992"/>
<rect x="1390.8" y="1832.4" width="38.2" height="3.6" fill="#84c997"/>
<rect x="1390.8" y="1835.4" width="38.2" height="3.6" fill="#82c99b"/>
<rect x="1390.8" y="1838.4" width="38.2" height="3.6" fill="#80c99f"/>
<rect x="1390.8" y="1841.4" width="38.2" height="3.6" fill="#7fc9a4"/>
<rect x="1390.8" y="1844.4" width="38.2" height="3.6" fill="#7dc9a8"/>
<rect x="1390.8" y="1847.4" width="38.2" height="3.6" fill="#7bc8ad"/>
<rect x="1390.8" y="1850.4" width="38.2" height="3.6" fill="#79c8b1"/>
<rect x="1390.8" y="1853.4" width="38.2" height="3.6" fill="#77c8b5"/>
<rect x="1390.8" y="1856.4" width="38.2" height="3.6" fill="#76c8ba"/>
<rect x="1390.8" y="1859.4" width="38.2" height="3.6" fill="#74c8be"/>
<rect x="1390.8" y="1862.4" width="38.2" height="3.6" fill="#72c8c3"/>
<rect x="1390.8" y="1865.4" width="38.2" height="3.6" fill="#70c8c7"/>
<rect x="1390.8" y="1868.4" width="38.2" height="3.6" fill="#6ec8cb"/>
<rect x="1390.8" y="1871.4" width="38.2" height="3.6" fill="#6dc8d0"/>
<rect x="1390.8" y="1874.4" width="38.2" height="3.6" fill="#6bc8d4"/>
<rect x="1390.8" y="1877.4" width="38.2" height="3.6" fill="#68c8d7"/>
<rect x="1390.8" y="1880.4" width="38.2" height="3.6" fill="#64c7d9"/>
<rect x="1390.8" y="1883.4" width="38.2" height="3.6" fill="#60c7db"/>
<rect x="1390.8" y="1886.4" width="38.2" height="3.6" fill="#5cc7dd"/>
<rect x="1390.8" y="1889.4" width="38.2" height="3.6" fill="#58c7df"/>
<rect x="1390.8" y="1892.4" width="38.2" height="3.6" fill="#54c6e0"/>
<rect x="1390.8" y="1895.4" width="38.2" height="3.6" fill="#50c6e2"/>
<rect x="1390.8" y="1898.4" width="38.2" height="3.6" fill="#4cc6e4"/>
<rect x="1390.8" y="1901.4" width="38.2" height="3.6" fill="#48c5e6"/>
<rect x="1390.8" y="1904.4" width="38.2" height="3.6" fill="#44c5e8"/>
<rect x="1390.8" y="1907.4" width="38.2" height="3.6" fill="#40c5ea"/>
<rect x="1390.8" y="1910.4" width="38.2" height="3.6" fill="#3cc4ec"/>
<rect x="1390.8" y="1913.4" width="38.2" height="3.6" fill="#37c4ee"/>
<rect x="1390.8" y="1916.4" width="38.2" height="3.6" fill="#33c4f0"/>
<rect x="1390.8" y="1919.4" width="38.2" height="3.6" fill="#2fc3f1"/>
<rect x="1390.8" y="1922.4" width="38.2" height="3.6" fill="#2cc3f3"/>
<rect x="1390.8" y="1925.4" width="38.2" height="3.6" fill="#2cc0f1"/>
<rect x="1390.8" y="1928.4" width="38.2" height="3.6" fill="#2cbdef"/>
<rect x="1390.8" y="1931.4" width="38.2" height="3.6" fill="#2cbbed"/>
<rect x="1390.8" y="1934.4" width="38.2" height="3.6" fill="#2bb8eb"/>
<rect x="1390.8" y="1937.4" width="38.2" height="3.6" fill="#2bb6e9"/>
<rect x="1390.8" y="1940.4" width="38.2" height="3.6" fill="#2bb3e7"/>
<rect x="1390.8" y="1943.4" width="38.2" height="3.6" fill="#2bb0e6"/>
<rect x="1390.8" y="1946.4" width="38.2" height="3.6" fill="#2baee4"/>
<rect x="1390.8" y="1949.4" width="38.2" height="3.6" fill="#2babe2"/>
<rect x="1390.8" y="1952.4" width="38.2" height="3.6" fill="#2ba9e0"/>
<rect x="1390.8" y="1955.4" width="38.2" height="3.6" fill="#2ba6de"/>
<rect x="1390.8" y="1958.4" width="38.2" height="3.6" fill="#2aa3dc"/>
<rect x="1390.8" y="1961.4" width="38.2" height="3.6" fill="#2aa1da"/>
<rect x="1390.8" y="1964.4" width="38.2" height="3.6" fill="#2a9ed8"/>
<rect x="1390.8" y="1967.4" width="38.2" height="3.6" fill="#2a9cd6"/>
<rect x="1390.8" y="1970.4" width="38.2" height="3.6" fill="#2b9ad5"/>
<rect x="1390.8" y="1973.4" width="38.2" height="3.6" fill="#2b98d4"/>
<rect x="1390.8" y="1976.4" width="38.2" height="3.6" fill="#2c96d2"/>
<rect x="1390.8" y="1979.4" width="38.2" height="3.6" fill="#2d94d1"/>
<rect x="1390.8" y="1982.4" width="38.2" height="3.6" fill="#2e92d0"/>
<rect x="1390.8" y="1985.4" width="38.2" height="3.6" fill="#2f90ce"/>
<rect x="1390.8" y="1988.4" width="38.2" height="3.6" fill="#308fcd"/>
<rect x="1390.8" y="1991.4" width="38.2" height="3.6" fill="#318dcc"/>
<rect x="1390.8" y="1994.4" width="38.2" height="3.6" fill="#318bca"/>
<rect x="1390.8" y="1997.4" width="38.2" height="3.6" fill="#3289c9"/>
<rect x="1390.8" y="2000.4" width="38.2" height="3.6" fill="#3387c8"/>
<rect x="1390.8" y="2003.4" width="38.2" height="3.6" fill="#3486c6"/>
<rect x="1390.8" y="2006.4" width="38.2" height="3.6" fill="#3584c5"/>
<rect x="1390.8" y="2009.4" width="38.2" height="3.6" fill="#3682c4"/>
<rect x="1390.8" y="2012.4" width="38.2" height="3.6" fill="#3780c2"/>
<rect x="1390.8" y="2015.4" width="38.2" height="3.6" fill="#377ec1"/>
<rect x="1390.8" y="2018.4" width="38.2" height="3.6" fill="#387cc0"/>
<rect x="1390.8" y="2021.4" width="38.2" height="3.6" fill="#397bbf"/>
<rect x="1390.8" y="2024.4" width="38.2" height="3.6" fill="#3a79bd"/>
<rect x="1390.8" y="2027.4" width="38.2" height="3.6" fill="#3b77bc"/>
<rect x="1390.8" y="2030.4" width="38.2" height="3.6" fill="#3c75bb"/>
<rect x="1390.8" y="2033.4" width="38.2" height="3.6" fill="#3d73b9"/>
<rect x="1390.8" y="2036.4" width="38.2" height="3.6" fill="#3d71b8"/>
<rect x="1390.8" y="2039.4" width="38.2" height="3.6" fill="#3e70b7"/>
<rect x="1390.8" y="2042.4" width="38.2" height="3.6" fill="#3f6eb5"/>
<rect x="1390.8" y="2045.4" width="38.2" height="3.6" fill="#406cb4"/>
<rect x="1390.8" y="2048.4" width="38.2" height="3.6" fill="#406bb3"/>
<rect x="1390.8" y="2051.4" width="38.2" height="3.6" fill="#3f6ab3"/>
<rect x="1390.8" y="2054.4" width="38.2" height="3.6" fill="#3f69b2"/>
<rect x="1390.8" y="2057.4" width="38.2" height="3.6" fill="#3f67b1"/>
<rect x="1390.8" y="2060.4" width="38.2" height="3.6" fill="#3f66b0"/>
<rect x="1390.8" y="2063.4" width="38.2" height="3.6" fill="#3e65b0"/>
<rect x="1390.8" y="2066.4" width="38.2" height="3.6" fill="#3e64af"/>
<rect x="1390.8" y="2069.4" width="38.2" height="3.6" fill="#3e63ae"/>
<rect x="1390.8" y="2072.4" width="38.2" height="3.6" fill="#3e62ae"/>
<rect x="1390.8" y="2075.4" width="38.2" height="3.6" fill="#3d61ad"/>
<rect x="1390.8" y="2078.4" width="38.2" height="3.6" fill="#3d60ac"/>
<rect x="1390.8" y="2081.4" width="38.2" height="3.6" fill="#3d5eac"/>
<rect x="1390.8" y="2084.4" width="38.2" height="3.6" fill="#3c5dab"/>
<rect x="1390.8" y="2087.4" width="38.2" height="3.6" fill="#3c5caa"/>
<rect x="1390.8" y="2090.4" width="38.2" height="3.6" fill="#3c5ba9"/>
<rect x="1390.8" y="2093.4" width="38.2" height="3.6" fill="#3c5aa9"/>
<rect x="1390.8" y="2096.4" width="38.2" height="3.6" fill="#3b59a8"/>
<rect x="1390.8" y="2099.4" width="38.2" height="3.6" fill="#3b58a7"/>
<rect x="1390.8" y="2102.4" width="38.2" height="3.6" fill="#3b56a7"/>
<rect x="1390.8" y="2105.4" width="38.2" height="3.6" fill="#3b55a6"/>
<rect x="1390.8" y="2108.4" width="38.2" height="3.6" fill="#3a54a5"/>
<rect x="1390.8" y="2111.4" width="38.2" height="3.6" fill="#3a53a5"/>
<rect x="1390.8" y="2114.4" width="38.2" height="3.6" fill="#3a52a4"/>
<rect x="1390.8" y="2117.4" width="38.2" height="3.6" fill="#3951a3"/>
<rect x="1390.8" y="2120.4" width="38.2" height="3.6" fill="#3950a2"/>
<rect x="1390.8" y="2123.4" width="38.2" height="3.6" fill="#394fa2"/>
<rect x="1390.8" y="2126.4" width="38.2" height="3.6" fill="#384da1"/>
<rect x="1390.8" y="2129.4" width="38.2" height="3.6" fill="#384ca1"/>
<rect x="1390.8" y="2132.4" width="38.2" height="3.6" fill="#384ba0"/>
<rect x="1390.8" y="2135.4" width="38.2" height="3.6" fill="#374a9f"/>
<rect x="1390.8" y="2138.4" width="38.2" height="3.6" fill="#37499f"/>
<rect x="1390.8" y="2141.4" width="38.2" height="3.6" fill="#36489e"/>
<rect x="1390.8" y="2144.4" width="38.2" height="3.6" fill="#36469d"/>
<rect x="1390.8" y="2147.4" width="38.2" height="3.6" fill="#35459d"/>
<rect x="1390.8" y="2150.4" width="38.2" height="3.6" fill="#35449c"/>
<rect x="1390.8" y="2153.4" width="38.2" height="3.6" fill="#35439c"/>
<rect x="1390.8" y="2156.4" width="38.2" height="3.6" fill="#34429b"/>
<rect x="1390.8" y="2159.4" width="38.2" height="3.6" fill="#34419a"/>
<rect x="1390.8" y="2162.4" width="38.2" height="3.6" fill="#333f9a"/>
<rect x="1390.8" y="2165.4" width="38.2" height="3.6" fill="#333e99"/>
<rect x="1390.8" y="2168.4" width="38.2" height="3.6" fill="#323d98"/>
<rect x="1390.8" y="2171.4" width="38.2" height="3.6" fill="#323c98"/>
<rect x="1390.8" y="2174.4" width="38.2" height="3.6" fill="#323b97"/>
<rect x="1390.8" y="2177.4" width="38.2" height="3.6" fill="#313a97"/>
<rect x="1390.8" y="2180.4" width="38.2" height="3.6" fill="#313896"/>
<rect x="1390.8" y="2183.4" width="38.2" height="3.6" fill="#303795"/>
<rect x="1390.8" y="2186.4" width="38.2" height="3.6" fill="#303695"/>
<rect x="1390.8" y="2189.4" width="38.2" height="3.6" fill="#2f3594"/>
<rect x="1390.8" y="2192.4" width="38.2" height="3.6" fill="#2f3493"/>
<rect x="1390.8" y="2195.4" width="38.2" height="3.6" fill="#2f3393"/>
<rect x="1390.8" y="2198.4" width="38.2" height="2.4" fill="#2e3192"/>
</g>
<text x="1432.2" y="1435.6" font-size="28">1</text>
<path d="M1429 1507.4h-9" stroke="#444" stroke-opacity=".55" stroke-width="1" fill="none"/>
<text x="1432.2" y="1512.6" font-size="28">0.988</text>
<path d="M1429 1584.5h-9" stroke="#444" stroke-opacity=".55" stroke-width="1" fill="none"/>
<text x="1432.2" y="1589.7" font-size="28">0.976</text>
<path d="M1429 1661.5h-9" stroke="#444" stroke-opacity=".55" stroke-width="1" fill="none"/>
<text x="1432.2" y="1666.7" font-size="28">0.964</text>
<path d="M1429 1738.6h-9" stroke="#444" stroke-opacity=".55" stroke-width="1" fill="none"/>
<text x="1432.2" y="1743.8" font-size="28">0.952</text>
<path d="M1429 1815.6h-9" stroke="#444" stroke-opacity=".55" stroke-width="1" fill="none"/>
<text x="1432.2" y="1820.8" font-size="28">0.94</text>
<path d="M1429 1892.6h-9" stroke="#444" stroke-opacity=".55" stroke-width="1" fill="none"/>
<text x="1432.2" y="1897.8" font-size="28">0.928</text>
<path d="M1429 1969.7h-9" stroke="#444" stroke-opacity=".55" stroke-width="1" fill="none"/>
<text x="1432.2" y="1974.9" font-size="28">0.916</text>
<path d="M1429 2046.7h-9" stroke="#444" stroke-opacity=".55" stroke-width="1" fill="none"/>
<text x="1432.2" y="2051.9" font-size="28">0.904</text>
<path d="M1429 2123.8h-9" stroke="#444" stroke-opacity=".55" stroke-width="1" fill="none"/>
<text x="1432.2" y="2129" font-size="28">0.892</text>
<text x="1432.2" y="2206" font-size="28">0.88</text>
</svg>
</body>
</html>
